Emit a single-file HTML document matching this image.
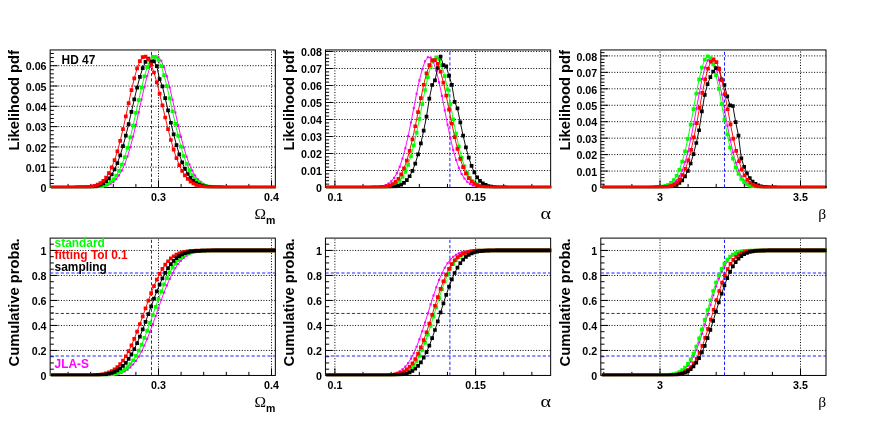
<!DOCTYPE html>
<html><head><meta charset="utf-8"><title>Likelihood pdf</title>
<style>
html,body{margin:0;padding:0;background:#fff;}
body{width:876px;height:426px;overflow:hidden;}
svg{display:block;will-change:transform;opacity:0.999;}
text{font-family:"Liberation Sans",sans-serif;font-weight:bold;}
.tl{font-size:10.7px;}
.yt{font-size:14.7px;}
.it{font-size:11.9px;}
.sub{font-size:10.5px;}
.sym{font-family:"Liberation Serif",serif;font-weight:normal;}
</style></head><body>
<svg width="876" height="426" viewBox="0 0 876 426">
<rect width="876" height="426" fill="#fff"/>
<g>
<path d="M158.5 187.5V49.95M271.5 187.5V49.95M50.15 167.2H275.35M50.15 146.9H275.35M50.15 126.6H275.35M50.15 106.3H275.35M50.15 86H275.35M50.15 65.7H275.35" stroke="#000" stroke-width="1" stroke-dasharray="1 1.7" fill="none"/>
<path d="M68.1 187.5v-3.6M90.7 187.5v-3.6M113.3 187.5v-3.6M135.9 187.5v-3.6M158.5 187.5v-7.2M181.1 187.5v-3.6M203.7 187.5v-3.6M226.3 187.5v-3.6M248.9 187.5v-3.6M271.5 187.5v-7.2M50.15 183.44h3.7M50.15 179.38h3.7M50.15 175.32h3.7M50.15 171.26h3.7M50.15 167.2h7.4M50.15 163.14h3.7M50.15 159.08h3.7M50.15 155.02h3.7M50.15 150.96h3.7M50.15 146.9h7.4M50.15 142.84h3.7M50.15 138.78h3.7M50.15 134.72h3.7M50.15 130.66h3.7M50.15 126.6h7.4M50.15 122.54h3.7M50.15 118.48h3.7M50.15 114.42h3.7M50.15 110.36h3.7M50.15 106.3h7.4M50.15 102.24h3.7M50.15 98.18h3.7M50.15 94.12h3.7M50.15 90.06h3.7M50.15 86h7.4M50.15 81.94h3.7M50.15 77.88h3.7M50.15 73.82h3.7M50.15 69.76h3.7M50.15 65.7h7.4M50.15 61.64h3.7M50.15 57.58h3.7M50.15 53.52h3.7" stroke="#000" stroke-width="1" fill="none"/><rect x="50.15" y="49.95" width="225.2" height="137.55" fill="none" stroke="#000" stroke-width="1"/>
<path d="M151.5 187.5V49.95" stroke="#2020ff" stroke-width="1" stroke-dasharray="3.2 2.1" fill="none"/>
<clipPath id="c00"><rect x="50.55" y="49.35" width="225.4" height="138.85"/></clipPath><g clip-path="url(#c00)">
<polyline points="51.47,187.5 54.29,187.5 57.1,187.5 59.92,187.5 62.73,187.5 65.55,187.5 68.36,187.5 71.18,187.5 73.99,187.5 76.81,187.5 79.62,187.49 82.44,187.49 85.25,187.47 88.07,187.45 90.88,187.4 93.7,187.33 96.51,187.19 99.33,186.96 102.14,186.59 104.96,186.01 107.77,185.11 110.59,183.78 113.4,181.84 116.22,179.12 119.03,175.42 121.85,170.53 124.66,164.27 127.48,156.54 130.29,147.29 133.11,136.62 135.92,124.79 138.74,112.21 141.55,99.43 144.37,87.15 147.18,76.12 150,67.06 152.81,60.63 155.63,57.31 158.44,57.35 161.26,60.75 164.07,67.26 166.89,76.37 169.7,87.45 172.52,99.75 175.33,112.53 178.15,125.1 180.96,136.91 183.78,147.54 186.59,156.75 189.41,164.45 192.22,170.67 195.04,175.53 197.85,179.2 200.67,181.9 203.48,183.82 206.3,185.14 209.11,186.03 211.93,186.6 214.74,186.97 217.56,187.19 220.37,187.33 223.19,187.41 226,187.45 228.82,187.47 231.63,187.49 234.45,187.49 237.26,187.5 240.08,187.5 242.89,187.5 245.71,187.5 248.52,187.5 251.34,187.5 254.15,187.5 256.97,187.5 259.78,187.5 262.6,187.5 265.41,187.5 268.23,187.5 271.04,187.5 273.86,187.5" fill="none" stroke="#ff00ff" stroke-width="0.95" stroke-linejoin="round"/><path d="M50.42 186.45h2.1v2.1h-2.1zM53.24 186.45h2.1v2.1h-2.1zM56.05 186.45h2.1v2.1h-2.1zM58.87 186.45h2.1v2.1h-2.1zM61.68 186.45h2.1v2.1h-2.1zM64.5 186.45h2.1v2.1h-2.1zM67.31 186.45h2.1v2.1h-2.1zM70.13 186.45h2.1v2.1h-2.1zM72.94 186.45h2.1v2.1h-2.1zM75.76 186.45h2.1v2.1h-2.1zM78.57 186.44h2.1v2.1h-2.1zM81.39 186.44h2.1v2.1h-2.1zM84.2 186.42h2.1v2.1h-2.1zM87.02 186.4h2.1v2.1h-2.1zM89.83 186.35h2.1v2.1h-2.1zM92.65 186.28h2.1v2.1h-2.1zM95.46 186.14h2.1v2.1h-2.1zM98.28 185.91h2.1v2.1h-2.1zM101.09 185.54h2.1v2.1h-2.1zM103.91 184.96h2.1v2.1h-2.1zM106.72 184.06h2.1v2.1h-2.1zM109.54 182.73h2.1v2.1h-2.1zM112.35 180.79h2.1v2.1h-2.1zM115.17 178.07h2.1v2.1h-2.1zM117.98 174.37h2.1v2.1h-2.1zM120.8 169.48h2.1v2.1h-2.1zM123.61 163.22h2.1v2.1h-2.1zM126.43 155.49h2.1v2.1h-2.1zM129.24 146.24h2.1v2.1h-2.1zM132.06 135.57h2.1v2.1h-2.1zM134.87 123.74h2.1v2.1h-2.1zM137.69 111.16h2.1v2.1h-2.1zM140.5 98.38h2.1v2.1h-2.1zM143.32 86.1h2.1v2.1h-2.1zM146.13 75.07h2.1v2.1h-2.1zM148.95 66.01h2.1v2.1h-2.1zM151.76 59.58h2.1v2.1h-2.1zM154.58 56.26h2.1v2.1h-2.1zM157.39 56.3h2.1v2.1h-2.1zM160.21 59.7h2.1v2.1h-2.1zM163.02 66.21h2.1v2.1h-2.1zM165.84 75.32h2.1v2.1h-2.1zM168.65 86.4h2.1v2.1h-2.1zM171.47 98.7h2.1v2.1h-2.1zM174.28 111.48h2.1v2.1h-2.1zM177.1 124.05h2.1v2.1h-2.1zM179.91 135.86h2.1v2.1h-2.1zM182.73 146.49h2.1v2.1h-2.1zM185.54 155.7h2.1v2.1h-2.1zM188.36 163.4h2.1v2.1h-2.1zM191.17 169.62h2.1v2.1h-2.1zM193.99 174.48h2.1v2.1h-2.1zM196.8 178.15h2.1v2.1h-2.1zM199.62 180.85h2.1v2.1h-2.1zM202.43 182.77h2.1v2.1h-2.1zM205.25 184.09h2.1v2.1h-2.1zM208.06 184.98h2.1v2.1h-2.1zM210.88 185.55h2.1v2.1h-2.1zM213.69 185.92h2.1v2.1h-2.1zM216.51 186.14h2.1v2.1h-2.1zM219.32 186.28h2.1v2.1h-2.1zM222.14 186.36h2.1v2.1h-2.1zM224.95 186.4h2.1v2.1h-2.1zM227.77 186.42h2.1v2.1h-2.1zM230.58 186.44h2.1v2.1h-2.1zM233.4 186.44h2.1v2.1h-2.1zM236.21 186.45h2.1v2.1h-2.1zM239.03 186.45h2.1v2.1h-2.1zM241.84 186.45h2.1v2.1h-2.1zM244.66 186.45h2.1v2.1h-2.1zM247.47 186.45h2.1v2.1h-2.1zM250.29 186.45h2.1v2.1h-2.1zM253.1 186.45h2.1v2.1h-2.1zM255.92 186.45h2.1v2.1h-2.1zM258.73 186.45h2.1v2.1h-2.1zM261.55 186.45h2.1v2.1h-2.1zM264.36 186.45h2.1v2.1h-2.1zM267.18 186.45h2.1v2.1h-2.1zM269.99 186.45h2.1v2.1h-2.1zM272.81 186.45h2.1v2.1h-2.1z" fill="#ff00ff"/>
<polyline points="51.47,187.5 54.29,187.5 57.1,187.5 59.92,187.5 62.73,187.5 65.55,187.5 68.36,187.5 71.18,187.5 73.99,187.5 76.81,187.49 79.62,187.49 82.44,187.47 85.25,187.45 88.07,187.41 90.88,187.33 93.7,187.2 96.51,186.98 99.33,186.62 102.14,186.06 104.96,185.19 107.77,183.88 110.59,181.99 113.4,179.33 116.22,175.7 119.03,170.89 121.85,164.72 124.66,157.07 127.48,147.89 130.29,137.29 133.11,125.49 135.92,112.9 138.74,100.07 141.55,87.68 144.37,76.47 147.18,67.21 150,60.53 152.81,56.94 155.63,56.73 158.44,59.89 161.26,66.2 164.07,75.17 166.89,86.17 169.7,98.45 172.52,111.26 175.33,123.92 178.15,135.85 180.96,146.62 183.78,155.98 186.59,163.83 189.41,170.18 192.22,175.15 195.04,178.93 197.85,181.7 200.67,183.68 203.48,185.05 206.3,185.97 209.11,186.57 211.93,186.95 214.74,187.18 217.56,187.32 220.37,187.4 223.19,187.45 226,187.47 228.82,187.49 231.63,187.49 234.45,187.5 237.26,187.5 240.08,187.5 242.89,187.5 245.71,187.5 248.52,187.5 251.34,187.5 254.15,187.5 256.97,187.5 259.78,187.5 262.6,187.5 265.41,187.5 268.23,187.5 271.04,187.5 273.86,187.5" fill="none" stroke="#00ff00" stroke-width="0.95" stroke-linejoin="round"/><path d="M49.62 185.65h3.7v3.7h-3.7zM52.44 185.65h3.7v3.7h-3.7zM55.25 185.65h3.7v3.7h-3.7zM58.07 185.65h3.7v3.7h-3.7zM60.88 185.65h3.7v3.7h-3.7zM63.7 185.65h3.7v3.7h-3.7zM66.51 185.65h3.7v3.7h-3.7zM69.33 185.65h3.7v3.7h-3.7zM72.14 185.65h3.7v3.7h-3.7zM74.96 185.64h3.7v3.7h-3.7zM77.77 185.64h3.7v3.7h-3.7zM80.59 185.62h3.7v3.7h-3.7zM83.4 185.6h3.7v3.7h-3.7zM86.22 185.56h3.7v3.7h-3.7zM89.03 185.48h3.7v3.7h-3.7zM91.85 185.35h3.7v3.7h-3.7zM94.66 185.13h3.7v3.7h-3.7zM97.48 184.77h3.7v3.7h-3.7zM100.29 184.21h3.7v3.7h-3.7zM103.11 183.34h3.7v3.7h-3.7zM105.92 182.03h3.7v3.7h-3.7zM108.74 180.14h3.7v3.7h-3.7zM111.55 177.48h3.7v3.7h-3.7zM114.37 173.85h3.7v3.7h-3.7zM117.18 169.04h3.7v3.7h-3.7zM120 162.87h3.7v3.7h-3.7zM122.81 155.22h3.7v3.7h-3.7zM125.63 146.04h3.7v3.7h-3.7zM128.44 135.44h3.7v3.7h-3.7zM131.26 123.64h3.7v3.7h-3.7zM134.07 111.05h3.7v3.7h-3.7zM136.89 98.22h3.7v3.7h-3.7zM139.7 85.83h3.7v3.7h-3.7zM142.52 74.62h3.7v3.7h-3.7zM145.33 65.36h3.7v3.7h-3.7zM148.15 58.68h3.7v3.7h-3.7zM150.96 55.09h3.7v3.7h-3.7zM153.78 54.88h3.7v3.7h-3.7zM156.59 58.04h3.7v3.7h-3.7zM159.41 64.35h3.7v3.7h-3.7zM162.22 73.32h3.7v3.7h-3.7zM165.04 84.32h3.7v3.7h-3.7zM167.85 96.6h3.7v3.7h-3.7zM170.67 109.41h3.7v3.7h-3.7zM173.48 122.07h3.7v3.7h-3.7zM176.3 134h3.7v3.7h-3.7zM179.11 144.77h3.7v3.7h-3.7zM181.93 154.13h3.7v3.7h-3.7zM184.74 161.98h3.7v3.7h-3.7zM187.56 168.33h3.7v3.7h-3.7zM190.37 173.3h3.7v3.7h-3.7zM193.19 177.08h3.7v3.7h-3.7zM196 179.85h3.7v3.7h-3.7zM198.82 181.83h3.7v3.7h-3.7zM201.63 183.2h3.7v3.7h-3.7zM204.45 184.12h3.7v3.7h-3.7zM207.26 184.72h3.7v3.7h-3.7zM210.08 185.1h3.7v3.7h-3.7zM212.89 185.33h3.7v3.7h-3.7zM215.71 185.47h3.7v3.7h-3.7zM218.52 185.55h3.7v3.7h-3.7zM221.34 185.6h3.7v3.7h-3.7zM224.15 185.62h3.7v3.7h-3.7zM226.97 185.64h3.7v3.7h-3.7zM229.78 185.64h3.7v3.7h-3.7zM232.6 185.65h3.7v3.7h-3.7zM235.41 185.65h3.7v3.7h-3.7zM238.23 185.65h3.7v3.7h-3.7zM241.04 185.65h3.7v3.7h-3.7zM243.86 185.65h3.7v3.7h-3.7zM246.67 185.65h3.7v3.7h-3.7zM249.49 185.65h3.7v3.7h-3.7zM252.3 185.65h3.7v3.7h-3.7zM255.12 185.65h3.7v3.7h-3.7zM257.93 185.65h3.7v3.7h-3.7zM260.75 185.65h3.7v3.7h-3.7zM263.56 185.65h3.7v3.7h-3.7zM266.38 185.65h3.7v3.7h-3.7zM269.19 185.65h3.7v3.7h-3.7zM272.01 185.65h3.7v3.7h-3.7z" fill="#00ff00"/>
<polyline points="52.63,187.5 55.44,187.5 58.26,187.5 61.07,187.5 63.89,187.5 66.7,187.5 69.52,187.5 72.33,187.49 75.15,187.48 77.96,187.46 80.78,187.43 83.59,187.37 86.41,187.28 89.22,187.11 92.04,186.84 94.85,186.41 97.67,185.75 100.48,184.75 103.3,183.29 106.11,181.22 108.93,178.34 111.74,174.49 114.56,169.46 117.37,163.11 120.19,155.35 123,146.16 125.82,135.65 128.63,124.07 131.45,111.83 134.26,99.46 137.08,87.6 139.89,76.93 142.71,68.15 145.52,61.86 148.34,58.5 151.15,61.8 153.97,61.34 156.78,66.1 159.6,79.2 162.41,86.35 165.23,98.12 168.04,110.46 170.86,122.75 173.67,134.42 176.49,145.06 179.3,154.4 182.12,162.33 184.93,168.83 187.75,173.99 190.56,177.97 193.38,180.94 196.19,183.1 199.01,184.62 201.82,185.66 204.64,186.35 207.45,186.8 210.27,187.09 213.08,187.26 215.9,187.37 218.71,187.43 221.53,187.46 224.34,187.48 227.16,187.49 229.97,187.49 232.79,187.5 235.6,187.5 238.42,187.5 241.23,187.5 244.05,187.5 246.86,187.5 249.68,187.5 252.49,187.5 255.31,187.5 258.12,187.5 260.94,187.5 263.75,187.5 266.57,187.5 269.38,187.5 272.2,187.5 275.01,187.5" fill="none" stroke="#000000" stroke-width="0.95" stroke-linejoin="round"/><path d="M50.78 185.65h3.7v3.7h-3.7zM53.59 185.65h3.7v3.7h-3.7zM56.41 185.65h3.7v3.7h-3.7zM59.22 185.65h3.7v3.7h-3.7zM62.04 185.65h3.7v3.7h-3.7zM64.85 185.65h3.7v3.7h-3.7zM67.67 185.65h3.7v3.7h-3.7zM70.48 185.64h3.7v3.7h-3.7zM73.3 185.63h3.7v3.7h-3.7zM76.11 185.61h3.7v3.7h-3.7zM78.93 185.58h3.7v3.7h-3.7zM81.74 185.52h3.7v3.7h-3.7zM84.56 185.43h3.7v3.7h-3.7zM87.37 185.26h3.7v3.7h-3.7zM90.19 184.99h3.7v3.7h-3.7zM93 184.56h3.7v3.7h-3.7zM95.82 183.9h3.7v3.7h-3.7zM98.63 182.9h3.7v3.7h-3.7zM101.45 181.44h3.7v3.7h-3.7zM104.26 179.37h3.7v3.7h-3.7zM107.08 176.49h3.7v3.7h-3.7zM109.89 172.64h3.7v3.7h-3.7zM112.71 167.61h3.7v3.7h-3.7zM115.52 161.26h3.7v3.7h-3.7zM118.34 153.5h3.7v3.7h-3.7zM121.15 144.31h3.7v3.7h-3.7zM123.97 133.8h3.7v3.7h-3.7zM126.78 122.22h3.7v3.7h-3.7zM129.6 109.98h3.7v3.7h-3.7zM132.41 97.61h3.7v3.7h-3.7zM135.23 85.75h3.7v3.7h-3.7zM138.04 75.08h3.7v3.7h-3.7zM140.86 66.3h3.7v3.7h-3.7zM143.67 60.01h3.7v3.7h-3.7zM146.49 56.65h3.7v3.7h-3.7zM149.3 59.95h3.7v3.7h-3.7zM152.12 59.49h3.7v3.7h-3.7zM154.93 64.25h3.7v3.7h-3.7zM157.75 77.35h3.7v3.7h-3.7zM160.56 84.5h3.7v3.7h-3.7zM163.38 96.27h3.7v3.7h-3.7zM166.19 108.61h3.7v3.7h-3.7zM169.01 120.9h3.7v3.7h-3.7zM171.82 132.57h3.7v3.7h-3.7zM174.64 143.21h3.7v3.7h-3.7zM177.45 152.55h3.7v3.7h-3.7zM180.27 160.48h3.7v3.7h-3.7zM183.08 166.98h3.7v3.7h-3.7zM185.9 172.14h3.7v3.7h-3.7zM188.71 176.12h3.7v3.7h-3.7zM191.53 179.09h3.7v3.7h-3.7zM194.34 181.25h3.7v3.7h-3.7zM197.16 182.77h3.7v3.7h-3.7zM199.97 183.81h3.7v3.7h-3.7zM202.79 184.5h3.7v3.7h-3.7zM205.6 184.95h3.7v3.7h-3.7zM208.42 185.24h3.7v3.7h-3.7zM211.23 185.41h3.7v3.7h-3.7zM214.05 185.52h3.7v3.7h-3.7zM216.86 185.58h3.7v3.7h-3.7zM219.68 185.61h3.7v3.7h-3.7zM222.49 185.63h3.7v3.7h-3.7zM225.31 185.64h3.7v3.7h-3.7zM228.12 185.64h3.7v3.7h-3.7zM230.94 185.65h3.7v3.7h-3.7zM233.75 185.65h3.7v3.7h-3.7zM236.57 185.65h3.7v3.7h-3.7zM239.38 185.65h3.7v3.7h-3.7zM242.2 185.65h3.7v3.7h-3.7zM245.01 185.65h3.7v3.7h-3.7zM247.83 185.65h3.7v3.7h-3.7zM250.64 185.65h3.7v3.7h-3.7zM253.46 185.65h3.7v3.7h-3.7zM256.27 185.65h3.7v3.7h-3.7zM259.09 185.65h3.7v3.7h-3.7zM261.9 185.65h3.7v3.7h-3.7zM264.72 185.65h3.7v3.7h-3.7zM267.53 185.65h3.7v3.7h-3.7zM270.35 185.65h3.7v3.7h-3.7zM273.16 185.65h3.7v3.7h-3.7z" fill="#000000"/>
<polyline points="52.63,187.5 55.44,187.5 58.26,187.5 61.07,187.5 63.89,187.5 66.7,187.5 69.52,187.49 72.33,187.49 75.15,187.47 77.96,187.44 80.78,187.39 83.59,187.3 86.41,187.14 89.22,186.88 92.04,186.44 94.85,185.75 97.67,184.68 100.48,183.09 103.3,180.79 106.11,177.56 108.93,173.19 111.74,167.47 114.56,160.21 117.37,151.35 120.19,140.92 123,129.12 125.82,116.34 128.63,103.13 131.45,90.21 134.26,78.38 137.08,68.45 139.89,61.18 142.71,57.14 145.52,56.6 148.34,59.19 151.15,64.61 153.97,72.49 156.78,82.33 159.6,93.53 162.41,105.46 165.23,117.51 168.04,129.16 170.86,139.98 173.67,149.69 176.49,158.09 179.3,165.16 182.12,170.91 184.93,175.47 187.75,178.97 190.56,181.59 193.38,183.5 196.19,184.86 199.01,185.79 201.82,186.42 204.64,186.83 207.45,187.1 210.27,187.26 213.08,187.36 215.9,187.42 218.71,187.46 221.53,187.48 224.34,187.49 227.16,187.49 229.97,187.5 232.79,187.5 235.6,187.5 238.42,187.5 241.23,187.5 244.05,187.5 246.86,187.5 249.68,187.5 252.49,187.5 255.31,187.5 258.12,187.5 260.94,187.5 263.75,187.5 266.57,187.5 269.38,187.5 272.2,187.5 275.01,187.5" fill="none" stroke="#ff0000" stroke-width="0.95" stroke-linejoin="round"/><path d="M50.78 185.65h3.7v3.7h-3.7zM53.59 185.65h3.7v3.7h-3.7zM56.41 185.65h3.7v3.7h-3.7zM59.22 185.65h3.7v3.7h-3.7zM62.04 185.65h3.7v3.7h-3.7zM64.85 185.65h3.7v3.7h-3.7zM67.67 185.64h3.7v3.7h-3.7zM70.48 185.64h3.7v3.7h-3.7zM73.3 185.62h3.7v3.7h-3.7zM76.11 185.59h3.7v3.7h-3.7zM78.93 185.54h3.7v3.7h-3.7zM81.74 185.45h3.7v3.7h-3.7zM84.56 185.29h3.7v3.7h-3.7zM87.37 185.03h3.7v3.7h-3.7zM90.19 184.59h3.7v3.7h-3.7zM93 183.9h3.7v3.7h-3.7zM95.82 182.83h3.7v3.7h-3.7zM98.63 181.24h3.7v3.7h-3.7zM101.45 178.94h3.7v3.7h-3.7zM104.26 175.71h3.7v3.7h-3.7zM107.08 171.34h3.7v3.7h-3.7zM109.89 165.62h3.7v3.7h-3.7zM112.71 158.36h3.7v3.7h-3.7zM115.52 149.5h3.7v3.7h-3.7zM118.34 139.07h3.7v3.7h-3.7zM121.15 127.27h3.7v3.7h-3.7zM123.97 114.49h3.7v3.7h-3.7zM126.78 101.28h3.7v3.7h-3.7zM129.6 88.36h3.7v3.7h-3.7zM132.41 76.53h3.7v3.7h-3.7zM135.23 66.6h3.7v3.7h-3.7zM138.04 59.33h3.7v3.7h-3.7zM140.86 55.29h3.7v3.7h-3.7zM143.67 54.75h3.7v3.7h-3.7zM146.49 57.34h3.7v3.7h-3.7zM149.3 62.76h3.7v3.7h-3.7zM152.12 70.64h3.7v3.7h-3.7zM154.93 80.48h3.7v3.7h-3.7zM157.75 91.68h3.7v3.7h-3.7zM160.56 103.61h3.7v3.7h-3.7zM163.38 115.66h3.7v3.7h-3.7zM166.19 127.31h3.7v3.7h-3.7zM169.01 138.13h3.7v3.7h-3.7zM171.82 147.84h3.7v3.7h-3.7zM174.64 156.24h3.7v3.7h-3.7zM177.45 163.31h3.7v3.7h-3.7zM180.27 169.06h3.7v3.7h-3.7zM183.08 173.62h3.7v3.7h-3.7zM185.9 177.12h3.7v3.7h-3.7zM188.71 179.74h3.7v3.7h-3.7zM191.53 181.65h3.7v3.7h-3.7zM194.34 183.01h3.7v3.7h-3.7zM197.16 183.94h3.7v3.7h-3.7zM199.97 184.57h3.7v3.7h-3.7zM202.79 184.98h3.7v3.7h-3.7zM205.6 185.25h3.7v3.7h-3.7zM208.42 185.41h3.7v3.7h-3.7zM211.23 185.51h3.7v3.7h-3.7zM214.05 185.57h3.7v3.7h-3.7zM216.86 185.61h3.7v3.7h-3.7zM219.68 185.63h3.7v3.7h-3.7zM222.49 185.64h3.7v3.7h-3.7zM225.31 185.64h3.7v3.7h-3.7zM228.12 185.65h3.7v3.7h-3.7zM230.94 185.65h3.7v3.7h-3.7zM233.75 185.65h3.7v3.7h-3.7zM236.57 185.65h3.7v3.7h-3.7zM239.38 185.65h3.7v3.7h-3.7zM242.2 185.65h3.7v3.7h-3.7zM245.01 185.65h3.7v3.7h-3.7zM247.83 185.65h3.7v3.7h-3.7zM250.64 185.65h3.7v3.7h-3.7zM253.46 185.65h3.7v3.7h-3.7zM256.27 185.65h3.7v3.7h-3.7zM259.09 185.65h3.7v3.7h-3.7zM261.9 185.65h3.7v3.7h-3.7zM264.72 185.65h3.7v3.7h-3.7zM267.53 185.65h3.7v3.7h-3.7zM270.35 185.65h3.7v3.7h-3.7zM273.16 185.65h3.7v3.7h-3.7z" fill="#ff0000"/>
</g>
<text x="158.5" y="201.2" text-anchor="middle" class="tl">0.3</text><text x="271.5" y="201.2" text-anchor="middle" class="tl">0.4</text><text x="46.55" y="192.2" text-anchor="end" class="tl">0</text><text x="46.55" y="171.9" text-anchor="end" class="tl">0.01</text><text x="46.55" y="151.6" text-anchor="end" class="tl">0.02</text><text x="46.55" y="131.3" text-anchor="end" class="tl">0.03</text><text x="46.55" y="111" text-anchor="end" class="tl">0.04</text><text x="46.55" y="90.7" text-anchor="end" class="tl">0.05</text><text x="46.55" y="70.4" text-anchor="end" class="tl">0.06</text><text transform="translate(18.95 50.15) rotate(-90)" text-anchor="end" class="yt">Likelihood pdf</text><text x="266.05" y="219.1" text-anchor="end" class="sym" font-size="15.5">&#937;</text><text x="275.25" y="223.6" text-anchor="end" class="sub">m</text>
</g>
<g>
<path d="M334.9 187.5V49.95M475.6 187.5V49.95M325.45 170.5H550.65M325.45 153.5H550.65M325.45 136.5H550.65M325.45 119.5H550.65M325.45 102.5H550.65M325.45 85.5H550.65M325.45 68.5H550.65M325.45 51.5H550.65" stroke="#000" stroke-width="1" stroke-dasharray="1 1.7" fill="none"/>
<path d="M334.9 187.5v-7.2M363.04 187.5v-3.6M391.18 187.5v-3.6M419.32 187.5v-3.6M447.46 187.5v-3.6M475.6 187.5v-7.2M503.74 187.5v-3.6M531.88 187.5v-3.6M325.45 184.1h3.7M325.45 180.7h3.7M325.45 177.3h3.7M325.45 173.9h3.7M325.45 170.5h7.4M325.45 167.1h3.7M325.45 163.7h3.7M325.45 160.3h3.7M325.45 156.9h3.7M325.45 153.5h7.4M325.45 150.1h3.7M325.45 146.7h3.7M325.45 143.3h3.7M325.45 139.9h3.7M325.45 136.5h7.4M325.45 133.1h3.7M325.45 129.7h3.7M325.45 126.3h3.7M325.45 122.9h3.7M325.45 119.5h7.4M325.45 116.1h3.7M325.45 112.7h3.7M325.45 109.3h3.7M325.45 105.9h3.7M325.45 102.5h7.4M325.45 99.1h3.7M325.45 95.7h3.7M325.45 92.3h3.7M325.45 88.9h3.7M325.45 85.5h7.4M325.45 82.1h3.7M325.45 78.7h3.7M325.45 75.3h3.7M325.45 71.9h3.7M325.45 68.5h7.4M325.45 65.1h3.7M325.45 61.7h3.7M325.45 58.3h3.7M325.45 54.9h3.7M325.45 51.5h7.4" stroke="#000" stroke-width="1" fill="none"/><rect x="325.45" y="49.95" width="225.2" height="137.55" fill="none" stroke="#000" stroke-width="1"/>
<path d="M449.9 187.5V49.95" stroke="#2020ff" stroke-width="1" stroke-dasharray="3.2 2.1" fill="none"/>
<clipPath id="c01"><rect x="325.85" y="49.35" width="225.4" height="138.85"/></clipPath><g clip-path="url(#c01)">
<polyline points="326.52,187.5 329.33,187.5 332.15,187.5 334.96,187.5 337.78,187.5 340.59,187.5 343.41,187.5 346.22,187.5 349.04,187.5 351.85,187.5 354.67,187.5 357.48,187.5 360.3,187.49 363.11,187.49 365.93,187.47 368.74,187.44 371.56,187.39 374.37,187.28 377.19,187.08 380,186.73 382.82,186.14 385.63,185.17 388.45,183.64 391.26,181.31 394.08,177.92 396.89,173.15 399.71,166.73 402.52,158.44 405.34,148.19 408.15,136.1 410.97,122.53 413.78,108.11 416.6,93.71 419.41,80.39 422.23,69.25 425.04,61.3 427.86,57.29 430.67,57.63 433.49,62.28 436.3,70.79 439.12,82.33 441.93,95.89 444.75,110.36 447.56,124.7 450.38,138.08 453.19,149.9 456.01,159.85 458.82,167.84 461.64,173.99 464.45,178.52 467.27,181.73 470.08,183.92 472.9,185.35 475.71,186.25 478.53,186.8 481.34,187.12 484.16,187.3 486.97,187.4 489.79,187.45 492.6,187.48 495.42,187.49 498.23,187.5 501.05,187.5 503.86,187.5 506.68,187.5 509.49,187.5 512.31,187.5 515.12,187.5 517.94,187.5 520.75,187.5 523.57,187.5 526.38,187.5 529.2,187.5 532.01,187.5 534.83,187.5 537.64,187.5 540.46,187.5 543.27,187.5 546.09,187.5 548.9,187.5" fill="none" stroke="#ff00ff" stroke-width="0.95" stroke-linejoin="round"/><path d="M325.47 186.45h2.1v2.1h-2.1zM328.28 186.45h2.1v2.1h-2.1zM331.1 186.45h2.1v2.1h-2.1zM333.91 186.45h2.1v2.1h-2.1zM336.73 186.45h2.1v2.1h-2.1zM339.54 186.45h2.1v2.1h-2.1zM342.36 186.45h2.1v2.1h-2.1zM345.17 186.45h2.1v2.1h-2.1zM347.99 186.45h2.1v2.1h-2.1zM350.8 186.45h2.1v2.1h-2.1zM353.62 186.45h2.1v2.1h-2.1zM356.43 186.45h2.1v2.1h-2.1zM359.25 186.44h2.1v2.1h-2.1zM362.06 186.44h2.1v2.1h-2.1zM364.88 186.42h2.1v2.1h-2.1zM367.69 186.39h2.1v2.1h-2.1zM370.51 186.34h2.1v2.1h-2.1zM373.32 186.23h2.1v2.1h-2.1zM376.14 186.03h2.1v2.1h-2.1zM378.95 185.68h2.1v2.1h-2.1zM381.77 185.09h2.1v2.1h-2.1zM384.58 184.12h2.1v2.1h-2.1zM387.4 182.59h2.1v2.1h-2.1zM390.21 180.26h2.1v2.1h-2.1zM393.03 176.87h2.1v2.1h-2.1zM395.84 172.1h2.1v2.1h-2.1zM398.66 165.68h2.1v2.1h-2.1zM401.47 157.39h2.1v2.1h-2.1zM404.29 147.14h2.1v2.1h-2.1zM407.1 135.05h2.1v2.1h-2.1zM409.92 121.48h2.1v2.1h-2.1zM412.73 107.06h2.1v2.1h-2.1zM415.55 92.66h2.1v2.1h-2.1zM418.36 79.34h2.1v2.1h-2.1zM421.18 68.2h2.1v2.1h-2.1zM423.99 60.25h2.1v2.1h-2.1zM426.81 56.24h2.1v2.1h-2.1zM429.62 56.58h2.1v2.1h-2.1zM432.44 61.23h2.1v2.1h-2.1zM435.25 69.74h2.1v2.1h-2.1zM438.07 81.28h2.1v2.1h-2.1zM440.88 94.84h2.1v2.1h-2.1zM443.7 109.31h2.1v2.1h-2.1zM446.51 123.65h2.1v2.1h-2.1zM449.33 137.03h2.1v2.1h-2.1zM452.14 148.85h2.1v2.1h-2.1zM454.96 158.8h2.1v2.1h-2.1zM457.77 166.79h2.1v2.1h-2.1zM460.59 172.94h2.1v2.1h-2.1zM463.4 177.47h2.1v2.1h-2.1zM466.22 180.68h2.1v2.1h-2.1zM469.03 182.87h2.1v2.1h-2.1zM471.85 184.3h2.1v2.1h-2.1zM474.66 185.2h2.1v2.1h-2.1zM477.48 185.75h2.1v2.1h-2.1zM480.29 186.07h2.1v2.1h-2.1zM483.11 186.25h2.1v2.1h-2.1zM485.92 186.35h2.1v2.1h-2.1zM488.74 186.4h2.1v2.1h-2.1zM491.55 186.43h2.1v2.1h-2.1zM494.37 186.44h2.1v2.1h-2.1zM497.18 186.45h2.1v2.1h-2.1zM500 186.45h2.1v2.1h-2.1zM502.81 186.45h2.1v2.1h-2.1zM505.63 186.45h2.1v2.1h-2.1zM508.44 186.45h2.1v2.1h-2.1zM511.26 186.45h2.1v2.1h-2.1zM514.07 186.45h2.1v2.1h-2.1zM516.89 186.45h2.1v2.1h-2.1zM519.7 186.45h2.1v2.1h-2.1zM522.52 186.45h2.1v2.1h-2.1zM525.33 186.45h2.1v2.1h-2.1zM528.15 186.45h2.1v2.1h-2.1zM530.96 186.45h2.1v2.1h-2.1zM533.78 186.45h2.1v2.1h-2.1zM536.59 186.45h2.1v2.1h-2.1zM539.41 186.45h2.1v2.1h-2.1zM542.22 186.45h2.1v2.1h-2.1zM545.04 186.45h2.1v2.1h-2.1zM547.85 186.45h2.1v2.1h-2.1z" fill="#ff00ff"/>
<polyline points="326.52,187.5 329.33,187.5 332.15,187.5 334.96,187.5 337.78,187.5 340.59,187.5 343.41,187.5 346.22,187.5 349.04,187.5 351.85,187.5 354.67,187.5 357.48,187.5 360.3,187.5 363.11,187.5 365.93,187.5 368.74,187.49 371.56,187.49 374.37,187.47 377.19,187.44 380,187.37 382.82,187.25 385.63,187.03 388.45,186.64 391.26,185.98 394.08,184.9 396.89,183.21 399.71,180.65 402.52,176.95 405.34,171.79 408.15,164.9 410.97,156.08 413.78,145.29 416.6,132.72 419.41,118.79 422.23,104.22 425.04,89.98 427.86,77.14 430.67,66.83 433.49,60 436.3,57.32 439.12,59.22 441.93,65.71 444.75,76.08 447.56,89.29 450.38,104.1 453.19,119.25 456.01,133.69 458.82,146.63 461.64,157.58 464.45,166.4 467.27,173.17 470.08,178.12 472.9,181.58 475.71,183.9 478.53,185.39 481.34,186.31 484.16,186.85 486.97,187.16 489.79,187.33 492.6,187.42 495.42,187.46 498.23,187.48 501.05,187.49 503.86,187.5 506.68,187.5 509.49,187.5 512.31,187.5 515.12,187.5 517.94,187.5 520.75,187.5 523.57,187.5 526.38,187.5 529.2,187.5 532.01,187.5 534.83,187.5 537.64,187.5 540.46,187.5 543.27,187.5 546.09,187.5 548.9,187.5" fill="none" stroke="#00ff00" stroke-width="0.95" stroke-linejoin="round"/><path d="M324.67 185.65h3.7v3.7h-3.7zM327.48 185.65h3.7v3.7h-3.7zM330.3 185.65h3.7v3.7h-3.7zM333.11 185.65h3.7v3.7h-3.7zM335.93 185.65h3.7v3.7h-3.7zM338.74 185.65h3.7v3.7h-3.7zM341.56 185.65h3.7v3.7h-3.7zM344.37 185.65h3.7v3.7h-3.7zM347.19 185.65h3.7v3.7h-3.7zM350 185.65h3.7v3.7h-3.7zM352.82 185.65h3.7v3.7h-3.7zM355.63 185.65h3.7v3.7h-3.7zM358.45 185.65h3.7v3.7h-3.7zM361.26 185.65h3.7v3.7h-3.7zM364.08 185.65h3.7v3.7h-3.7zM366.89 185.64h3.7v3.7h-3.7zM369.71 185.64h3.7v3.7h-3.7zM372.52 185.62h3.7v3.7h-3.7zM375.34 185.59h3.7v3.7h-3.7zM378.15 185.52h3.7v3.7h-3.7zM380.97 185.4h3.7v3.7h-3.7zM383.78 185.18h3.7v3.7h-3.7zM386.6 184.79h3.7v3.7h-3.7zM389.41 184.13h3.7v3.7h-3.7zM392.23 183.05h3.7v3.7h-3.7zM395.04 181.36h3.7v3.7h-3.7zM397.86 178.8h3.7v3.7h-3.7zM400.67 175.1h3.7v3.7h-3.7zM403.49 169.94h3.7v3.7h-3.7zM406.3 163.05h3.7v3.7h-3.7zM409.12 154.23h3.7v3.7h-3.7zM411.93 143.44h3.7v3.7h-3.7zM414.75 130.87h3.7v3.7h-3.7zM417.56 116.94h3.7v3.7h-3.7zM420.38 102.37h3.7v3.7h-3.7zM423.19 88.13h3.7v3.7h-3.7zM426.01 75.29h3.7v3.7h-3.7zM428.82 64.98h3.7v3.7h-3.7zM431.64 58.15h3.7v3.7h-3.7zM434.45 55.47h3.7v3.7h-3.7zM437.27 57.37h3.7v3.7h-3.7zM440.08 63.86h3.7v3.7h-3.7zM442.9 74.23h3.7v3.7h-3.7zM445.71 87.44h3.7v3.7h-3.7zM448.53 102.25h3.7v3.7h-3.7zM451.34 117.4h3.7v3.7h-3.7zM454.16 131.84h3.7v3.7h-3.7zM456.97 144.78h3.7v3.7h-3.7zM459.79 155.73h3.7v3.7h-3.7zM462.6 164.55h3.7v3.7h-3.7zM465.42 171.32h3.7v3.7h-3.7zM468.23 176.27h3.7v3.7h-3.7zM471.05 179.73h3.7v3.7h-3.7zM473.86 182.05h3.7v3.7h-3.7zM476.68 183.54h3.7v3.7h-3.7zM479.49 184.46h3.7v3.7h-3.7zM482.31 185h3.7v3.7h-3.7zM485.12 185.31h3.7v3.7h-3.7zM487.94 185.48h3.7v3.7h-3.7zM490.75 185.57h3.7v3.7h-3.7zM493.57 185.61h3.7v3.7h-3.7zM496.38 185.63h3.7v3.7h-3.7zM499.2 185.64h3.7v3.7h-3.7zM502.01 185.65h3.7v3.7h-3.7zM504.83 185.65h3.7v3.7h-3.7zM507.64 185.65h3.7v3.7h-3.7zM510.46 185.65h3.7v3.7h-3.7zM513.27 185.65h3.7v3.7h-3.7zM516.09 185.65h3.7v3.7h-3.7zM518.9 185.65h3.7v3.7h-3.7zM521.72 185.65h3.7v3.7h-3.7zM524.53 185.65h3.7v3.7h-3.7zM527.35 185.65h3.7v3.7h-3.7zM530.16 185.65h3.7v3.7h-3.7zM532.98 185.65h3.7v3.7h-3.7zM535.79 185.65h3.7v3.7h-3.7zM538.61 185.65h3.7v3.7h-3.7zM541.42 185.65h3.7v3.7h-3.7zM544.24 185.65h3.7v3.7h-3.7zM547.05 185.65h3.7v3.7h-3.7z" fill="#00ff00"/>
<polyline points="327.98,187.5 330.8,187.5 333.61,187.5 336.43,187.5 339.24,187.5 342.06,187.5 344.87,187.5 347.69,187.5 350.5,187.5 353.32,187.5 356.13,187.5 358.95,187.5 361.76,187.5 364.58,187.5 367.39,187.5 370.21,187.5 373.02,187.5 375.84,187.49 378.65,187.49 381.47,187.47 384.28,187.43 387.1,187.37 389.91,187.24 392.73,187 395.54,186.58 398.36,185.87 401.17,184.72 403.99,182.91 406.8,180.19 409.62,176.27 412.43,170.82 415.25,163.6 418.06,154.44 420.88,143.34 423.69,130.56 426.51,116.63 429.32,98.7 432.14,85 434.95,80.3 437.77,68 440.58,56.5 443.4,65.1 446.21,66.4 449.03,75.9 451.84,84.8 454.66,101.9 457.47,108.47 460.29,122.35 463.1,135.57 465.92,147.46 468.73,157.64 471.55,165.97 474.36,172.48 477.18,177.37 479.99,180.89 482.81,183.33 485.62,184.96 488.44,186 491.25,186.64 494.07,187.03 496.88,187.25 499.7,187.37 502.51,187.43 505.33,187.47 508.14,187.49 510.96,187.49 513.77,187.5 516.59,187.5 519.4,187.5 522.22,187.5 525.03,187.5 527.85,187.5 530.66,187.5 533.48,187.5 536.29,187.5 539.11,187.5 541.92,187.5 544.74,187.5 547.55,187.5 550.37,187.5" fill="none" stroke="#000000" stroke-width="0.95" stroke-linejoin="round"/><path d="M326.13 185.65h3.7v3.7h-3.7zM328.95 185.65h3.7v3.7h-3.7zM331.76 185.65h3.7v3.7h-3.7zM334.58 185.65h3.7v3.7h-3.7zM337.39 185.65h3.7v3.7h-3.7zM340.21 185.65h3.7v3.7h-3.7zM343.02 185.65h3.7v3.7h-3.7zM345.84 185.65h3.7v3.7h-3.7zM348.65 185.65h3.7v3.7h-3.7zM351.47 185.65h3.7v3.7h-3.7zM354.28 185.65h3.7v3.7h-3.7zM357.1 185.65h3.7v3.7h-3.7zM359.91 185.65h3.7v3.7h-3.7zM362.73 185.65h3.7v3.7h-3.7zM365.54 185.65h3.7v3.7h-3.7zM368.36 185.65h3.7v3.7h-3.7zM371.17 185.65h3.7v3.7h-3.7zM373.99 185.64h3.7v3.7h-3.7zM376.8 185.64h3.7v3.7h-3.7zM379.62 185.62h3.7v3.7h-3.7zM382.43 185.58h3.7v3.7h-3.7zM385.25 185.52h3.7v3.7h-3.7zM388.06 185.39h3.7v3.7h-3.7zM390.88 185.15h3.7v3.7h-3.7zM393.69 184.73h3.7v3.7h-3.7zM396.51 184.02h3.7v3.7h-3.7zM399.32 182.87h3.7v3.7h-3.7zM402.14 181.06h3.7v3.7h-3.7zM404.95 178.34h3.7v3.7h-3.7zM407.77 174.42h3.7v3.7h-3.7zM410.58 168.97h3.7v3.7h-3.7zM413.4 161.75h3.7v3.7h-3.7zM416.21 152.59h3.7v3.7h-3.7zM419.03 141.49h3.7v3.7h-3.7zM421.84 128.71h3.7v3.7h-3.7zM424.66 114.78h3.7v3.7h-3.7zM427.47 96.85h3.7v3.7h-3.7zM430.29 83.15h3.7v3.7h-3.7zM433.1 78.45h3.7v3.7h-3.7zM435.92 66.15h3.7v3.7h-3.7zM438.73 54.65h3.7v3.7h-3.7zM441.55 63.25h3.7v3.7h-3.7zM444.36 64.55h3.7v3.7h-3.7zM447.18 74.05h3.7v3.7h-3.7zM449.99 82.95h3.7v3.7h-3.7zM452.81 100.05h3.7v3.7h-3.7zM455.62 106.62h3.7v3.7h-3.7zM458.44 120.5h3.7v3.7h-3.7zM461.25 133.72h3.7v3.7h-3.7zM464.07 145.61h3.7v3.7h-3.7zM466.88 155.79h3.7v3.7h-3.7zM469.7 164.12h3.7v3.7h-3.7zM472.51 170.63h3.7v3.7h-3.7zM475.33 175.52h3.7v3.7h-3.7zM478.14 179.04h3.7v3.7h-3.7zM480.96 181.48h3.7v3.7h-3.7zM483.77 183.11h3.7v3.7h-3.7zM486.59 184.15h3.7v3.7h-3.7zM489.4 184.79h3.7v3.7h-3.7zM492.22 185.18h3.7v3.7h-3.7zM495.03 185.4h3.7v3.7h-3.7zM497.85 185.52h3.7v3.7h-3.7zM500.66 185.58h3.7v3.7h-3.7zM503.48 185.62h3.7v3.7h-3.7zM506.29 185.64h3.7v3.7h-3.7zM509.11 185.64h3.7v3.7h-3.7zM511.92 185.65h3.7v3.7h-3.7zM514.74 185.65h3.7v3.7h-3.7zM517.55 185.65h3.7v3.7h-3.7zM520.37 185.65h3.7v3.7h-3.7zM523.18 185.65h3.7v3.7h-3.7zM526 185.65h3.7v3.7h-3.7zM528.81 185.65h3.7v3.7h-3.7zM531.63 185.65h3.7v3.7h-3.7zM534.44 185.65h3.7v3.7h-3.7zM537.26 185.65h3.7v3.7h-3.7zM540.07 185.65h3.7v3.7h-3.7zM542.89 185.65h3.7v3.7h-3.7zM545.7 185.65h3.7v3.7h-3.7zM548.52 185.65h3.7v3.7h-3.7z" fill="#000000"/>
<polyline points="327.98,187.5 330.8,187.5 333.61,187.5 336.43,187.5 339.24,187.5 342.06,187.5 344.87,187.5 347.69,187.5 350.5,187.5 353.32,187.5 356.13,187.5 358.95,187.5 361.76,187.5 364.58,187.5 367.39,187.49 370.21,187.48 373.02,187.45 375.84,187.4 378.65,187.31 381.47,187.13 384.28,186.82 387.1,186.29 389.91,185.41 392.73,184.02 395.54,181.89 398.36,178.76 401.17,174.35 403.99,168.35 406.8,160.56 409.62,150.85 412.43,139.3 415.25,126.23 418.06,112.2 420.88,98.04 423.69,84.75 426.51,73.42 429.32,65.05 432.14,60.45 434.95,60.06 437.77,63.93 440.58,71.66 443.4,82.53 446.21,95.54 449.03,109.62 451.84,123.74 454.66,137.04 457.47,148.89 460.29,158.95 463.1,167.08 465.92,173.39 468.73,178.07 471.55,181.41 474.36,183.7 477.18,185.2 479.99,186.16 482.81,186.74 485.62,187.09 488.44,187.28 491.25,187.39 494.07,187.45 496.88,187.47 499.7,187.49 502.51,187.49 505.33,187.5 508.14,187.5 510.96,187.5 513.77,187.5 516.59,187.5 519.4,187.5 522.22,187.5 525.03,187.5 527.85,187.5 530.66,187.5 533.48,187.5 536.29,187.5 539.11,187.5 541.92,187.5 544.74,187.5 547.55,187.5 550.37,187.5" fill="none" stroke="#ff0000" stroke-width="0.95" stroke-linejoin="round"/><path d="M326.13 185.65h3.7v3.7h-3.7zM328.95 185.65h3.7v3.7h-3.7zM331.76 185.65h3.7v3.7h-3.7zM334.58 185.65h3.7v3.7h-3.7zM337.39 185.65h3.7v3.7h-3.7zM340.21 185.65h3.7v3.7h-3.7zM343.02 185.65h3.7v3.7h-3.7zM345.84 185.65h3.7v3.7h-3.7zM348.65 185.65h3.7v3.7h-3.7zM351.47 185.65h3.7v3.7h-3.7zM354.28 185.65h3.7v3.7h-3.7zM357.1 185.65h3.7v3.7h-3.7zM359.91 185.65h3.7v3.7h-3.7zM362.73 185.65h3.7v3.7h-3.7zM365.54 185.64h3.7v3.7h-3.7zM368.36 185.63h3.7v3.7h-3.7zM371.17 185.6h3.7v3.7h-3.7zM373.99 185.55h3.7v3.7h-3.7zM376.8 185.46h3.7v3.7h-3.7zM379.62 185.28h3.7v3.7h-3.7zM382.43 184.97h3.7v3.7h-3.7zM385.25 184.44h3.7v3.7h-3.7zM388.06 183.56h3.7v3.7h-3.7zM390.88 182.17h3.7v3.7h-3.7zM393.69 180.04h3.7v3.7h-3.7zM396.51 176.91h3.7v3.7h-3.7zM399.32 172.5h3.7v3.7h-3.7zM402.14 166.5h3.7v3.7h-3.7zM404.95 158.71h3.7v3.7h-3.7zM407.77 149h3.7v3.7h-3.7zM410.58 137.45h3.7v3.7h-3.7zM413.4 124.38h3.7v3.7h-3.7zM416.21 110.35h3.7v3.7h-3.7zM419.03 96.19h3.7v3.7h-3.7zM421.84 82.9h3.7v3.7h-3.7zM424.66 71.57h3.7v3.7h-3.7zM427.47 63.2h3.7v3.7h-3.7zM430.29 58.6h3.7v3.7h-3.7zM433.1 58.21h3.7v3.7h-3.7zM435.92 62.08h3.7v3.7h-3.7zM438.73 69.81h3.7v3.7h-3.7zM441.55 80.68h3.7v3.7h-3.7zM444.36 93.69h3.7v3.7h-3.7zM447.18 107.77h3.7v3.7h-3.7zM449.99 121.89h3.7v3.7h-3.7zM452.81 135.19h3.7v3.7h-3.7zM455.62 147.04h3.7v3.7h-3.7zM458.44 157.1h3.7v3.7h-3.7zM461.25 165.23h3.7v3.7h-3.7zM464.07 171.54h3.7v3.7h-3.7zM466.88 176.22h3.7v3.7h-3.7zM469.7 179.56h3.7v3.7h-3.7zM472.51 181.85h3.7v3.7h-3.7zM475.33 183.35h3.7v3.7h-3.7zM478.14 184.31h3.7v3.7h-3.7zM480.96 184.89h3.7v3.7h-3.7zM483.77 185.24h3.7v3.7h-3.7zM486.59 185.43h3.7v3.7h-3.7zM489.4 185.54h3.7v3.7h-3.7zM492.22 185.6h3.7v3.7h-3.7zM495.03 185.62h3.7v3.7h-3.7zM497.85 185.64h3.7v3.7h-3.7zM500.66 185.64h3.7v3.7h-3.7zM503.48 185.65h3.7v3.7h-3.7zM506.29 185.65h3.7v3.7h-3.7zM509.11 185.65h3.7v3.7h-3.7zM511.92 185.65h3.7v3.7h-3.7zM514.74 185.65h3.7v3.7h-3.7zM517.55 185.65h3.7v3.7h-3.7zM520.37 185.65h3.7v3.7h-3.7zM523.18 185.65h3.7v3.7h-3.7zM526 185.65h3.7v3.7h-3.7zM528.81 185.65h3.7v3.7h-3.7zM531.63 185.65h3.7v3.7h-3.7zM534.44 185.65h3.7v3.7h-3.7zM537.26 185.65h3.7v3.7h-3.7zM540.07 185.65h3.7v3.7h-3.7zM542.89 185.65h3.7v3.7h-3.7zM545.7 185.65h3.7v3.7h-3.7zM548.52 185.65h3.7v3.7h-3.7z" fill="#ff0000"/>
</g>
<text x="334.9" y="201.2" text-anchor="middle" class="tl">0.1</text><text x="475.6" y="201.2" text-anchor="middle" class="tl">0.15</text><text x="321.85" y="192.2" text-anchor="end" class="tl">0</text><text x="321.85" y="175.2" text-anchor="end" class="tl">0.01</text><text x="321.85" y="158.2" text-anchor="end" class="tl">0.02</text><text x="321.85" y="141.2" text-anchor="end" class="tl">0.03</text><text x="321.85" y="124.2" text-anchor="end" class="tl">0.04</text><text x="321.85" y="107.2" text-anchor="end" class="tl">0.05</text><text x="321.85" y="90.2" text-anchor="end" class="tl">0.06</text><text x="321.85" y="73.2" text-anchor="end" class="tl">0.07</text><text x="321.85" y="56.2" text-anchor="end" class="tl">0.08</text><text transform="translate(294.25 50.15) rotate(-90)" text-anchor="end" class="yt">Likelihood pdf</text><text transform="translate(551.15 219.4) scale(1.17 1)" text-anchor="end" class="sym" font-size="17.2">&#945;</text>
</g>
<g>
<path d="M660 187.5V49.95M800.5 187.5V49.95M600.8 171.05H826M600.8 154.6H826M600.8 138.15H826M600.8 121.7H826M600.8 105.25H826M600.8 88.8H826M600.8 72.35H826M600.8 55.9H826" stroke="#000" stroke-width="1" stroke-dasharray="1 1.7" fill="none"/>
<path d="M603.8 187.5v-3.6M631.9 187.5v-3.6M660 187.5v-7.2M688.1 187.5v-3.6M716.2 187.5v-3.6M744.3 187.5v-3.6M772.4 187.5v-3.6M800.5 187.5v-7.2M600.8 184.21h3.7M600.8 180.92h3.7M600.8 177.63h3.7M600.8 174.34h3.7M600.8 171.05h7.4M600.8 167.76h3.7M600.8 164.47h3.7M600.8 161.18h3.7M600.8 157.89h3.7M600.8 154.6h7.4M600.8 151.31h3.7M600.8 148.02h3.7M600.8 144.73h3.7M600.8 141.44h3.7M600.8 138.15h7.4M600.8 134.86h3.7M600.8 131.57h3.7M600.8 128.28h3.7M600.8 124.99h3.7M600.8 121.7h7.4M600.8 118.41h3.7M600.8 115.12h3.7M600.8 111.83h3.7M600.8 108.54h3.7M600.8 105.25h7.4M600.8 101.96h3.7M600.8 98.67h3.7M600.8 95.38h3.7M600.8 92.09h3.7M600.8 88.8h7.4M600.8 85.51h3.7M600.8 82.22h3.7M600.8 78.93h3.7M600.8 75.64h3.7M600.8 72.35h7.4M600.8 69.06h3.7M600.8 65.77h3.7M600.8 62.48h3.7M600.8 59.19h3.7M600.8 55.9h7.4M600.8 52.61h3.7" stroke="#000" stroke-width="1" fill="none"/><rect x="600.8" y="49.95" width="225.2" height="137.55" fill="none" stroke="#000" stroke-width="1"/>
<path d="M724.5 187.5V49.95" stroke="#2020ff" stroke-width="1" stroke-dasharray="3.2 2.1" fill="none"/>
<clipPath id="c02"><rect x="601.2" y="49.35" width="225.4" height="138.85"/></clipPath><g clip-path="url(#c02)">
<polyline points="603.56,187.5 606.37,187.5 609.19,187.5 612,187.5 614.82,187.5 617.63,187.5 620.45,187.5 623.26,187.5 626.08,187.5 628.89,187.5 631.71,187.5 634.52,187.5 637.34,187.5 640.15,187.5 642.97,187.5 645.78,187.5 648.6,187.49 651.41,187.48 654.23,187.46 657.04,187.41 659.86,187.31 662.67,187.11 665.49,186.75 668.3,186.09 671.12,184.97 673.93,183.14 676.75,180.29 679.56,176.05 682.38,170.03 685.19,161.89 688.01,151.46 690.82,138.78 693.64,124.26 696.45,108.65 699.27,93.09 702.08,78.95 704.9,67.62 707.71,60.36 710.53,58.01 713.34,60.83 716.16,68.5 718.97,80.14 721.79,94.48 724.6,110.1 727.42,125.64 730.23,140.03 733.05,152.51 735.86,162.73 738.68,170.66 741.49,176.51 744.31,180.61 747.12,183.35 749.94,185.1 752.75,186.17 755.57,186.79 758.38,187.14 761.2,187.32 764.01,187.42 766.83,187.46 769.64,187.48 772.46,187.49 775.27,187.5 778.09,187.5 780.9,187.5 783.72,187.5 786.53,187.5 789.35,187.5 792.16,187.5 794.98,187.5 797.79,187.5 800.61,187.5 803.42,187.5 806.24,187.5 809.05,187.5 811.87,187.5 814.68,187.5 817.5,187.5 820.31,187.5 823.13,187.5 825.94,187.5" fill="none" stroke="#ff00ff" stroke-width="0.95" stroke-linejoin="round"/><path d="M602.51 186.45h2.1v2.1h-2.1zM605.32 186.45h2.1v2.1h-2.1zM608.14 186.45h2.1v2.1h-2.1zM610.95 186.45h2.1v2.1h-2.1zM613.77 186.45h2.1v2.1h-2.1zM616.58 186.45h2.1v2.1h-2.1zM619.4 186.45h2.1v2.1h-2.1zM622.21 186.45h2.1v2.1h-2.1zM625.03 186.45h2.1v2.1h-2.1zM627.84 186.45h2.1v2.1h-2.1zM630.66 186.45h2.1v2.1h-2.1zM633.47 186.45h2.1v2.1h-2.1zM636.29 186.45h2.1v2.1h-2.1zM639.1 186.45h2.1v2.1h-2.1zM641.92 186.45h2.1v2.1h-2.1zM644.73 186.45h2.1v2.1h-2.1zM647.55 186.44h2.1v2.1h-2.1zM650.36 186.43h2.1v2.1h-2.1zM653.18 186.41h2.1v2.1h-2.1zM655.99 186.36h2.1v2.1h-2.1zM658.81 186.26h2.1v2.1h-2.1zM661.62 186.06h2.1v2.1h-2.1zM664.44 185.7h2.1v2.1h-2.1zM667.25 185.04h2.1v2.1h-2.1zM670.07 183.92h2.1v2.1h-2.1zM672.88 182.09h2.1v2.1h-2.1zM675.7 179.24h2.1v2.1h-2.1zM678.51 175h2.1v2.1h-2.1zM681.33 168.98h2.1v2.1h-2.1zM684.14 160.84h2.1v2.1h-2.1zM686.96 150.41h2.1v2.1h-2.1zM689.77 137.73h2.1v2.1h-2.1zM692.59 123.21h2.1v2.1h-2.1zM695.4 107.6h2.1v2.1h-2.1zM698.22 92.04h2.1v2.1h-2.1zM701.03 77.9h2.1v2.1h-2.1zM703.85 66.57h2.1v2.1h-2.1zM706.66 59.31h2.1v2.1h-2.1zM709.48 56.96h2.1v2.1h-2.1zM712.29 59.78h2.1v2.1h-2.1zM715.11 67.45h2.1v2.1h-2.1zM717.92 79.09h2.1v2.1h-2.1zM720.74 93.43h2.1v2.1h-2.1zM723.55 109.05h2.1v2.1h-2.1zM726.37 124.59h2.1v2.1h-2.1zM729.18 138.98h2.1v2.1h-2.1zM732 151.46h2.1v2.1h-2.1zM734.81 161.68h2.1v2.1h-2.1zM737.63 169.61h2.1v2.1h-2.1zM740.44 175.46h2.1v2.1h-2.1zM743.26 179.56h2.1v2.1h-2.1zM746.07 182.3h2.1v2.1h-2.1zM748.89 184.05h2.1v2.1h-2.1zM751.7 185.12h2.1v2.1h-2.1zM754.52 185.74h2.1v2.1h-2.1zM757.33 186.09h2.1v2.1h-2.1zM760.15 186.27h2.1v2.1h-2.1zM762.96 186.37h2.1v2.1h-2.1zM765.78 186.41h2.1v2.1h-2.1zM768.59 186.43h2.1v2.1h-2.1zM771.41 186.44h2.1v2.1h-2.1zM774.22 186.45h2.1v2.1h-2.1zM777.04 186.45h2.1v2.1h-2.1zM779.85 186.45h2.1v2.1h-2.1zM782.67 186.45h2.1v2.1h-2.1zM785.48 186.45h2.1v2.1h-2.1zM788.3 186.45h2.1v2.1h-2.1zM791.11 186.45h2.1v2.1h-2.1zM793.93 186.45h2.1v2.1h-2.1zM796.74 186.45h2.1v2.1h-2.1zM799.56 186.45h2.1v2.1h-2.1zM802.37 186.45h2.1v2.1h-2.1zM805.19 186.45h2.1v2.1h-2.1zM808 186.45h2.1v2.1h-2.1zM810.82 186.45h2.1v2.1h-2.1zM813.63 186.45h2.1v2.1h-2.1zM816.45 186.45h2.1v2.1h-2.1zM819.26 186.45h2.1v2.1h-2.1zM822.08 186.45h2.1v2.1h-2.1zM824.89 186.45h2.1v2.1h-2.1z" fill="#ff00ff"/>
<polyline points="603.39,187.5 606.2,187.5 609.02,187.5 611.83,187.5 614.65,187.5 617.46,187.5 620.28,187.5 623.09,187.5 625.91,187.5 628.72,187.5 631.54,187.5 634.35,187.5 637.17,187.5 639.98,187.5 642.8,187.5 645.61,187.49 648.43,187.48 651.24,187.45 654.06,187.39 656.87,187.28 659.69,187.06 662.5,186.67 665.32,185.97 668.13,184.8 670.95,182.92 673.76,180.02 676.58,175.75 679.39,169.74 682.21,161.68 685.02,151.38 687.84,138.9 690.65,124.58 693.47,109.14 696.28,93.63 699.1,79.32 701.91,67.57 704.73,59.59 707.54,56.27 710.36,57.98 713.17,64.52 715.99,75.17 718.8,88.81 721.62,104.08 724.43,119.67 727.25,134.44 730.06,147.57 732.88,158.6 735.69,167.37 738.51,174.02 741.32,178.81 744.14,182.11 746.95,184.29 749.77,185.66 752.58,186.48 755.4,186.96 758.21,187.22 761.03,187.36 763.84,187.44 766.66,187.47 769.47,187.49 772.29,187.49 775.1,187.5 777.92,187.5 780.73,187.5 783.55,187.5 786.36,187.5 789.18,187.5 791.99,187.5 794.81,187.5 797.62,187.5 800.44,187.5 803.25,187.5 806.07,187.5 808.88,187.5 811.7,187.5 814.51,187.5 817.33,187.5 820.14,187.5 822.96,187.5 825.77,187.5" fill="none" stroke="#00ff00" stroke-width="0.95" stroke-linejoin="round"/><path d="M601.54 185.65h3.7v3.7h-3.7zM604.35 185.65h3.7v3.7h-3.7zM607.17 185.65h3.7v3.7h-3.7zM609.98 185.65h3.7v3.7h-3.7zM612.8 185.65h3.7v3.7h-3.7zM615.61 185.65h3.7v3.7h-3.7zM618.43 185.65h3.7v3.7h-3.7zM621.24 185.65h3.7v3.7h-3.7zM624.06 185.65h3.7v3.7h-3.7zM626.87 185.65h3.7v3.7h-3.7zM629.69 185.65h3.7v3.7h-3.7zM632.5 185.65h3.7v3.7h-3.7zM635.32 185.65h3.7v3.7h-3.7zM638.13 185.65h3.7v3.7h-3.7zM640.95 185.65h3.7v3.7h-3.7zM643.76 185.64h3.7v3.7h-3.7zM646.58 185.63h3.7v3.7h-3.7zM649.39 185.6h3.7v3.7h-3.7zM652.21 185.54h3.7v3.7h-3.7zM655.02 185.43h3.7v3.7h-3.7zM657.84 185.21h3.7v3.7h-3.7zM660.65 184.82h3.7v3.7h-3.7zM663.47 184.12h3.7v3.7h-3.7zM666.28 182.95h3.7v3.7h-3.7zM669.1 181.07h3.7v3.7h-3.7zM671.91 178.17h3.7v3.7h-3.7zM674.73 173.9h3.7v3.7h-3.7zM677.54 167.89h3.7v3.7h-3.7zM680.36 159.83h3.7v3.7h-3.7zM683.17 149.53h3.7v3.7h-3.7zM685.99 137.05h3.7v3.7h-3.7zM688.8 122.73h3.7v3.7h-3.7zM691.62 107.29h3.7v3.7h-3.7zM694.43 91.78h3.7v3.7h-3.7zM697.25 77.47h3.7v3.7h-3.7zM700.06 65.72h3.7v3.7h-3.7zM702.88 57.74h3.7v3.7h-3.7zM705.69 54.42h3.7v3.7h-3.7zM708.51 56.13h3.7v3.7h-3.7zM711.32 62.67h3.7v3.7h-3.7zM714.14 73.32h3.7v3.7h-3.7zM716.95 86.96h3.7v3.7h-3.7zM719.77 102.23h3.7v3.7h-3.7zM722.58 117.82h3.7v3.7h-3.7zM725.4 132.59h3.7v3.7h-3.7zM728.21 145.72h3.7v3.7h-3.7zM731.03 156.75h3.7v3.7h-3.7zM733.84 165.52h3.7v3.7h-3.7zM736.66 172.17h3.7v3.7h-3.7zM739.47 176.96h3.7v3.7h-3.7zM742.29 180.26h3.7v3.7h-3.7zM745.1 182.44h3.7v3.7h-3.7zM747.92 183.81h3.7v3.7h-3.7zM750.73 184.63h3.7v3.7h-3.7zM753.55 185.11h3.7v3.7h-3.7zM756.36 185.37h3.7v3.7h-3.7zM759.18 185.51h3.7v3.7h-3.7zM761.99 185.59h3.7v3.7h-3.7zM764.81 185.62h3.7v3.7h-3.7zM767.62 185.64h3.7v3.7h-3.7zM770.44 185.64h3.7v3.7h-3.7zM773.25 185.65h3.7v3.7h-3.7zM776.07 185.65h3.7v3.7h-3.7zM778.88 185.65h3.7v3.7h-3.7zM781.7 185.65h3.7v3.7h-3.7zM784.51 185.65h3.7v3.7h-3.7zM787.33 185.65h3.7v3.7h-3.7zM790.14 185.65h3.7v3.7h-3.7zM792.96 185.65h3.7v3.7h-3.7zM795.77 185.65h3.7v3.7h-3.7zM798.59 185.65h3.7v3.7h-3.7zM801.4 185.65h3.7v3.7h-3.7zM804.22 185.65h3.7v3.7h-3.7zM807.03 185.65h3.7v3.7h-3.7zM809.85 185.65h3.7v3.7h-3.7zM812.66 185.65h3.7v3.7h-3.7zM815.48 185.65h3.7v3.7h-3.7zM818.29 185.65h3.7v3.7h-3.7zM821.11 185.65h3.7v3.7h-3.7zM823.92 185.65h3.7v3.7h-3.7z" fill="#00ff00"/>
<polyline points="603.39,187.5 606.2,187.5 609.02,187.5 611.83,187.5 614.65,187.5 617.46,187.5 620.28,187.5 623.09,187.5 625.91,187.5 628.72,187.5 631.54,187.5 634.35,187.5 637.17,187.5 639.98,187.5 642.8,187.5 645.61,187.5 648.43,187.5 651.24,187.49 654.06,187.49 656.87,187.47 659.69,187.44 662.5,187.38 665.32,187.26 668.13,187.04 670.95,186.64 673.76,185.95 676.58,184.81 679.39,183.02 682.21,180.29 685.02,176.32 687.84,170.8 690.65,163.48 693.47,154.19 696.28,143.01 699.1,130.24 701.91,111.3 704.73,94.8 707.54,84.1 710.36,77.1 713.17,71.5 715.99,68.1 718.8,68.5 721.62,79.4 724.43,85 727.25,96.3 730.06,105.3 732.88,106 735.69,122.2 738.51,135.7 741.32,158.37 744.14,166.82 746.95,173.35 749.77,178.17 752.58,181.58 755.4,183.88 758.21,185.36 761.03,186.29 763.84,186.84 766.66,187.15 769.47,187.32 772.29,187.41 775.1,187.46 777.92,187.48 780.73,187.49 783.55,187.5 786.36,187.5 789.18,187.5 791.99,187.5 794.81,187.5 797.62,187.5 800.44,187.5 803.25,187.5 806.07,187.5 808.88,187.5 811.7,187.5 814.51,187.5 817.33,187.5 820.14,187.5 822.96,187.5 825.77,187.5" fill="none" stroke="#000000" stroke-width="0.95" stroke-linejoin="round"/><path d="M601.54 185.65h3.7v3.7h-3.7zM604.35 185.65h3.7v3.7h-3.7zM607.17 185.65h3.7v3.7h-3.7zM609.98 185.65h3.7v3.7h-3.7zM612.8 185.65h3.7v3.7h-3.7zM615.61 185.65h3.7v3.7h-3.7zM618.43 185.65h3.7v3.7h-3.7zM621.24 185.65h3.7v3.7h-3.7zM624.06 185.65h3.7v3.7h-3.7zM626.87 185.65h3.7v3.7h-3.7zM629.69 185.65h3.7v3.7h-3.7zM632.5 185.65h3.7v3.7h-3.7zM635.32 185.65h3.7v3.7h-3.7zM638.13 185.65h3.7v3.7h-3.7zM640.95 185.65h3.7v3.7h-3.7zM643.76 185.65h3.7v3.7h-3.7zM646.58 185.65h3.7v3.7h-3.7zM649.39 185.64h3.7v3.7h-3.7zM652.21 185.64h3.7v3.7h-3.7zM655.02 185.62h3.7v3.7h-3.7zM657.84 185.59h3.7v3.7h-3.7zM660.65 185.53h3.7v3.7h-3.7zM663.47 185.41h3.7v3.7h-3.7zM666.28 185.19h3.7v3.7h-3.7zM669.1 184.79h3.7v3.7h-3.7zM671.91 184.1h3.7v3.7h-3.7zM674.73 182.96h3.7v3.7h-3.7zM677.54 181.17h3.7v3.7h-3.7zM680.36 178.44h3.7v3.7h-3.7zM683.17 174.47h3.7v3.7h-3.7zM685.99 168.95h3.7v3.7h-3.7zM688.8 161.63h3.7v3.7h-3.7zM691.62 152.34h3.7v3.7h-3.7zM694.43 141.16h3.7v3.7h-3.7zM697.25 128.39h3.7v3.7h-3.7zM700.06 109.45h3.7v3.7h-3.7zM702.88 92.95h3.7v3.7h-3.7zM705.69 82.25h3.7v3.7h-3.7zM708.51 75.25h3.7v3.7h-3.7zM711.32 69.65h3.7v3.7h-3.7zM714.14 66.25h3.7v3.7h-3.7zM716.95 66.65h3.7v3.7h-3.7zM719.77 77.55h3.7v3.7h-3.7zM722.58 83.15h3.7v3.7h-3.7zM725.4 94.45h3.7v3.7h-3.7zM728.21 103.45h3.7v3.7h-3.7zM731.03 104.15h3.7v3.7h-3.7zM733.84 120.35h3.7v3.7h-3.7zM736.66 133.85h3.7v3.7h-3.7zM739.47 156.52h3.7v3.7h-3.7zM742.29 164.97h3.7v3.7h-3.7zM745.1 171.5h3.7v3.7h-3.7zM747.92 176.32h3.7v3.7h-3.7zM750.73 179.73h3.7v3.7h-3.7zM753.55 182.03h3.7v3.7h-3.7zM756.36 183.51h3.7v3.7h-3.7zM759.18 184.44h3.7v3.7h-3.7zM761.99 184.99h3.7v3.7h-3.7zM764.81 185.3h3.7v3.7h-3.7zM767.62 185.47h3.7v3.7h-3.7zM770.44 185.56h3.7v3.7h-3.7zM773.25 185.61h3.7v3.7h-3.7zM776.07 185.63h3.7v3.7h-3.7zM778.88 185.64h3.7v3.7h-3.7zM781.7 185.65h3.7v3.7h-3.7zM784.51 185.65h3.7v3.7h-3.7zM787.33 185.65h3.7v3.7h-3.7zM790.14 185.65h3.7v3.7h-3.7zM792.96 185.65h3.7v3.7h-3.7zM795.77 185.65h3.7v3.7h-3.7zM798.59 185.65h3.7v3.7h-3.7zM801.4 185.65h3.7v3.7h-3.7zM804.22 185.65h3.7v3.7h-3.7zM807.03 185.65h3.7v3.7h-3.7zM809.85 185.65h3.7v3.7h-3.7zM812.66 185.65h3.7v3.7h-3.7zM815.48 185.65h3.7v3.7h-3.7zM818.29 185.65h3.7v3.7h-3.7zM821.11 185.65h3.7v3.7h-3.7zM823.92 185.65h3.7v3.7h-3.7z" fill="#000000"/>
<polyline points="601.03,187.5 603.84,187.5 606.66,187.5 609.47,187.5 612.29,187.5 615.1,187.5 617.92,187.5 620.73,187.5 623.55,187.5 626.36,187.5 629.18,187.5 631.99,187.5 634.81,187.5 637.62,187.5 640.44,187.5 643.25,187.5 646.07,187.5 648.88,187.5 651.7,187.49 654.51,187.47 657.33,187.44 660.14,187.38 662.96,187.25 665.77,187.01 668.59,186.58 671.4,185.82 674.22,184.56 677.03,182.54 679.85,179.47 682.66,174.98 685.48,168.73 688.29,160.42 691.11,149.92 693.92,137.33 696.74,123.07 699.55,107.9 702.37,92.9 705.18,79.35 708,68.55 710.81,61.65 713.63,59.4 716.44,62.08 719.26,69.37 722.07,80.46 724.89,94.2 727.7,109.26 730.52,124.39 733.33,138.53 736.15,150.94 738.96,161.25 741.78,169.36 744.59,175.45 747.41,179.79 750.22,182.76 753.04,184.7 755.85,185.9 758.67,186.63 761.48,187.04 764.3,187.27 767.11,187.39 769.93,187.45 772.74,187.48 775.56,187.49 778.37,187.5 781.19,187.5 784,187.5 786.82,187.5 789.63,187.5 792.45,187.5 795.26,187.5 798.08,187.5 800.89,187.5 803.71,187.5 806.52,187.5 809.34,187.5 812.15,187.5 814.97,187.5 817.78,187.5 820.6,187.5 823.41,187.5" fill="none" stroke="#ff0000" stroke-width="0.95" stroke-linejoin="round"/><path d="M601.99 185.65h3.7v3.7h-3.7zM604.81 185.65h3.7v3.7h-3.7zM607.62 185.65h3.7v3.7h-3.7zM610.44 185.65h3.7v3.7h-3.7zM613.25 185.65h3.7v3.7h-3.7zM616.07 185.65h3.7v3.7h-3.7zM618.88 185.65h3.7v3.7h-3.7zM621.7 185.65h3.7v3.7h-3.7zM624.51 185.65h3.7v3.7h-3.7zM627.33 185.65h3.7v3.7h-3.7zM630.14 185.65h3.7v3.7h-3.7zM632.96 185.65h3.7v3.7h-3.7zM635.77 185.65h3.7v3.7h-3.7zM638.59 185.65h3.7v3.7h-3.7zM641.4 185.65h3.7v3.7h-3.7zM644.22 185.65h3.7v3.7h-3.7zM647.03 185.65h3.7v3.7h-3.7zM649.85 185.64h3.7v3.7h-3.7zM652.66 185.62h3.7v3.7h-3.7zM655.48 185.59h3.7v3.7h-3.7zM658.29 185.53h3.7v3.7h-3.7zM661.11 185.4h3.7v3.7h-3.7zM663.92 185.16h3.7v3.7h-3.7zM666.74 184.73h3.7v3.7h-3.7zM669.55 183.97h3.7v3.7h-3.7zM672.37 182.71h3.7v3.7h-3.7zM675.18 180.69h3.7v3.7h-3.7zM678 177.62h3.7v3.7h-3.7zM680.81 173.13h3.7v3.7h-3.7zM683.63 166.88h3.7v3.7h-3.7zM686.44 158.57h3.7v3.7h-3.7zM689.26 148.07h3.7v3.7h-3.7zM692.07 135.48h3.7v3.7h-3.7zM694.89 121.22h3.7v3.7h-3.7zM697.7 106.05h3.7v3.7h-3.7zM700.52 91.05h3.7v3.7h-3.7zM703.33 77.5h3.7v3.7h-3.7zM706.15 66.7h3.7v3.7h-3.7zM708.96 59.8h3.7v3.7h-3.7zM711.78 57.55h3.7v3.7h-3.7zM714.59 60.23h3.7v3.7h-3.7zM717.41 67.52h3.7v3.7h-3.7zM720.22 78.61h3.7v3.7h-3.7zM723.04 92.35h3.7v3.7h-3.7zM725.85 107.41h3.7v3.7h-3.7zM728.67 122.54h3.7v3.7h-3.7zM731.48 136.68h3.7v3.7h-3.7zM734.3 149.09h3.7v3.7h-3.7zM737.11 159.4h3.7v3.7h-3.7zM739.93 167.51h3.7v3.7h-3.7zM742.74 173.6h3.7v3.7h-3.7zM745.56 177.94h3.7v3.7h-3.7zM748.37 180.91h3.7v3.7h-3.7zM751.19 182.85h3.7v3.7h-3.7zM754 184.05h3.7v3.7h-3.7zM756.82 184.78h3.7v3.7h-3.7zM759.63 185.19h3.7v3.7h-3.7zM762.45 185.42h3.7v3.7h-3.7zM765.26 185.54h3.7v3.7h-3.7zM768.08 185.6h3.7v3.7h-3.7zM770.89 185.63h3.7v3.7h-3.7zM773.71 185.64h3.7v3.7h-3.7zM776.52 185.65h3.7v3.7h-3.7zM779.34 185.65h3.7v3.7h-3.7zM782.15 185.65h3.7v3.7h-3.7zM784.97 185.65h3.7v3.7h-3.7zM787.78 185.65h3.7v3.7h-3.7zM790.6 185.65h3.7v3.7h-3.7zM793.41 185.65h3.7v3.7h-3.7zM796.23 185.65h3.7v3.7h-3.7zM799.04 185.65h3.7v3.7h-3.7zM801.86 185.65h3.7v3.7h-3.7zM804.67 185.65h3.7v3.7h-3.7zM807.49 185.65h3.7v3.7h-3.7zM810.3 185.65h3.7v3.7h-3.7zM813.12 185.65h3.7v3.7h-3.7zM815.93 185.65h3.7v3.7h-3.7zM818.75 185.65h3.7v3.7h-3.7zM821.56 185.65h3.7v3.7h-3.7z" fill="#ff0000"/>
</g>
<text x="660" y="201.2" text-anchor="middle" class="tl">3</text><text x="800.5" y="201.2" text-anchor="middle" class="tl">3.5</text><text x="597.2" y="192.2" text-anchor="end" class="tl">0</text><text x="597.2" y="175.75" text-anchor="end" class="tl">0.01</text><text x="597.2" y="159.3" text-anchor="end" class="tl">0.02</text><text x="597.2" y="142.85" text-anchor="end" class="tl">0.03</text><text x="597.2" y="126.4" text-anchor="end" class="tl">0.04</text><text x="597.2" y="109.95" text-anchor="end" class="tl">0.05</text><text x="597.2" y="93.5" text-anchor="end" class="tl">0.06</text><text x="597.2" y="77.05" text-anchor="end" class="tl">0.07</text><text x="597.2" y="60.6" text-anchor="end" class="tl">0.08</text><text transform="translate(569.6 50.15) rotate(-90)" text-anchor="end" class="yt">Likelihood pdf</text><text x="826.2" y="219.3" text-anchor="end" class="sym" font-size="15.6">&#946;</text>
</g>
<g>
<path d="M158.5 375.45V238.1M271.5 375.45V238.1M50.15 350.45H275.35M50.15 325.45H275.35M50.15 300.45H275.35M50.15 275.45H275.35M50.15 250.45H275.35" stroke="#000" stroke-width="1" stroke-dasharray="1 1.7" fill="none"/>
<path d="M68.1 375.45v-3.6M90.7 375.45v-3.6M113.3 375.45v-3.6M135.9 375.45v-3.6M158.5 375.45v-7.2M181.1 375.45v-3.6M203.7 375.45v-3.6M226.3 375.45v-3.6M248.9 375.45v-3.6M271.5 375.45v-7.2M50.15 369.2h3.7M50.15 362.95h3.7M50.15 356.7h3.7M50.15 350.45h7.4M50.15 344.2h3.7M50.15 337.95h3.7M50.15 331.7h3.7M50.15 325.45h7.4M50.15 319.2h3.7M50.15 312.95h3.7M50.15 306.7h3.7M50.15 300.45h7.4M50.15 294.2h3.7M50.15 287.95h3.7M50.15 281.7h3.7M50.15 275.45h7.4M50.15 269.2h3.7M50.15 262.95h3.7M50.15 256.7h3.7M50.15 250.45h7.4M50.15 244.2h3.7" stroke="#000" stroke-width="1" fill="none"/><rect x="50.15" y="238.1" width="225.2" height="137.35" fill="none" stroke="#000" stroke-width="1"/>
<path d="M151.5 375.45V238.1" stroke="#2020ff" stroke-width="1" stroke-dasharray="3.2 2.1" fill="none"/>
<path d="M50.15 273H275.35M50.15 313.45H275.35M50.15 356H275.35" stroke="#2020ff" stroke-width="1" stroke-dasharray="3.2 2.1" fill="none"/>
<clipPath id="c10"><rect x="50.55" y="237.5" width="225.4" height="138.65"/></clipPath><g clip-path="url(#c10)">
<polyline points="51.47,375.45 54.29,375.45 57.1,375.45 59.92,375.45 62.73,375.45 65.55,375.45 68.36,375.45 71.18,375.45 73.99,375.45 76.81,375.45 79.62,375.45 82.44,375.45 85.25,375.45 88.07,375.44 90.88,375.44 93.7,375.43 96.51,375.42 99.33,375.39 102.14,375.34 104.96,375.27 107.77,375.14 110.59,374.95 113.4,374.65 116.22,374.2 119.03,373.55 121.85,372.63 124.66,371.35 127.48,369.63 130.29,367.38 133.11,364.5 135.92,360.92 138.74,356.58 141.55,351.45 144.37,345.54 147.18,338.92 150,331.69 152.81,324 155.63,316.02 158.44,307.96 161.26,300.03 164.07,292.43 166.89,285.34 169.7,278.88 172.52,273.16 175.33,268.21 178.15,264.06 180.96,260.65 183.78,257.93 186.59,255.81 189.41,254.21 192.22,253.02 195.04,252.17 197.85,251.58 200.67,251.17 203.48,250.9 206.3,250.72 209.11,250.61 211.93,250.54 214.74,250.5 217.56,250.48 220.37,250.47 223.19,250.46 226,250.45 228.82,250.45 231.63,250.45 234.45,250.45 237.26,250.45 240.08,250.45 242.89,250.45 245.71,250.45 248.52,250.45 251.34,250.45 254.15,250.45 256.97,250.45 259.78,250.45 262.6,250.45 265.41,250.45 268.23,250.45 271.04,250.45 273.86,250.45" fill="none" stroke="#ff00ff" stroke-width="0.95" stroke-linejoin="round"/><path d="M50.42 374.4h2.1v2.1h-2.1zM53.24 374.4h2.1v2.1h-2.1zM56.05 374.4h2.1v2.1h-2.1zM58.87 374.4h2.1v2.1h-2.1zM61.68 374.4h2.1v2.1h-2.1zM64.5 374.4h2.1v2.1h-2.1zM67.31 374.4h2.1v2.1h-2.1zM70.13 374.4h2.1v2.1h-2.1zM72.94 374.4h2.1v2.1h-2.1zM75.76 374.4h2.1v2.1h-2.1zM78.57 374.4h2.1v2.1h-2.1zM81.39 374.4h2.1v2.1h-2.1zM84.2 374.4h2.1v2.1h-2.1zM87.02 374.39h2.1v2.1h-2.1zM89.83 374.39h2.1v2.1h-2.1zM92.65 374.38h2.1v2.1h-2.1zM95.46 374.37h2.1v2.1h-2.1zM98.28 374.34h2.1v2.1h-2.1zM101.09 374.29h2.1v2.1h-2.1zM103.91 374.22h2.1v2.1h-2.1zM106.72 374.09h2.1v2.1h-2.1zM109.54 373.9h2.1v2.1h-2.1zM112.35 373.6h2.1v2.1h-2.1zM115.17 373.15h2.1v2.1h-2.1zM117.98 372.5h2.1v2.1h-2.1zM120.8 371.58h2.1v2.1h-2.1zM123.61 370.3h2.1v2.1h-2.1zM126.43 368.58h2.1v2.1h-2.1zM129.24 366.33h2.1v2.1h-2.1zM132.06 363.45h2.1v2.1h-2.1zM134.87 359.87h2.1v2.1h-2.1zM137.69 355.53h2.1v2.1h-2.1zM140.5 350.4h2.1v2.1h-2.1zM143.32 344.49h2.1v2.1h-2.1zM146.13 337.87h2.1v2.1h-2.1zM148.95 330.64h2.1v2.1h-2.1zM151.76 322.95h2.1v2.1h-2.1zM154.58 314.97h2.1v2.1h-2.1zM157.39 306.91h2.1v2.1h-2.1zM160.21 298.98h2.1v2.1h-2.1zM163.02 291.38h2.1v2.1h-2.1zM165.84 284.29h2.1v2.1h-2.1zM168.65 277.83h2.1v2.1h-2.1zM171.47 272.11h2.1v2.1h-2.1zM174.28 267.16h2.1v2.1h-2.1zM177.1 263.01h2.1v2.1h-2.1zM179.91 259.6h2.1v2.1h-2.1zM182.73 256.88h2.1v2.1h-2.1zM185.54 254.76h2.1v2.1h-2.1zM188.36 253.16h2.1v2.1h-2.1zM191.17 251.97h2.1v2.1h-2.1zM193.99 251.12h2.1v2.1h-2.1zM196.8 250.53h2.1v2.1h-2.1zM199.62 250.12h2.1v2.1h-2.1zM202.43 249.85h2.1v2.1h-2.1zM205.25 249.67h2.1v2.1h-2.1zM208.06 249.56h2.1v2.1h-2.1zM210.88 249.49h2.1v2.1h-2.1zM213.69 249.45h2.1v2.1h-2.1zM216.51 249.43h2.1v2.1h-2.1zM219.32 249.42h2.1v2.1h-2.1zM222.14 249.41h2.1v2.1h-2.1zM224.95 249.4h2.1v2.1h-2.1zM227.77 249.4h2.1v2.1h-2.1zM230.58 249.4h2.1v2.1h-2.1zM233.4 249.4h2.1v2.1h-2.1zM236.21 249.4h2.1v2.1h-2.1zM239.03 249.4h2.1v2.1h-2.1zM241.84 249.4h2.1v2.1h-2.1zM244.66 249.4h2.1v2.1h-2.1zM247.47 249.4h2.1v2.1h-2.1zM250.29 249.4h2.1v2.1h-2.1zM253.1 249.4h2.1v2.1h-2.1zM255.92 249.4h2.1v2.1h-2.1zM258.73 249.4h2.1v2.1h-2.1zM261.55 249.4h2.1v2.1h-2.1zM264.36 249.4h2.1v2.1h-2.1zM267.18 249.4h2.1v2.1h-2.1zM269.99 249.4h2.1v2.1h-2.1zM272.81 249.4h2.1v2.1h-2.1z" fill="#ff00ff"/>
<polyline points="51.47,375.45 54.29,375.45 57.1,375.45 59.92,375.45 62.73,375.45 65.55,375.45 68.36,375.45 71.18,375.45 73.99,375.45 76.81,375.45 79.62,375.45 82.44,375.45 85.25,375.44 88.07,375.44 90.88,375.43 93.7,375.41 96.51,375.38 99.33,375.33 102.14,375.25 104.96,375.12 107.77,374.91 110.59,374.6 113.4,374.13 116.22,373.44 119.03,372.47 121.85,371.14 124.66,369.36 127.48,367.03 130.29,364.06 133.11,360.37 135.92,355.92 138.74,350.69 141.55,344.68 144.37,337.97 147.18,330.66 150,322.92 152.81,314.92 155.63,306.87 158.44,298.97 161.26,291.43 164.07,284.41 166.89,278.05 169.7,272.43 172.52,267.6 175.33,263.55 178.15,260.24 180.96,257.61 183.78,255.56 186.59,254.02 189.41,252.89 192.22,252.08 195.04,251.51 197.85,251.13 200.67,250.87 203.48,250.7 206.3,250.6 209.11,250.54 211.93,250.5 214.74,250.48 217.56,250.46 220.37,250.46 223.19,250.45 226,250.45 228.82,250.45 231.63,250.45 234.45,250.45 237.26,250.45 240.08,250.45 242.89,250.45 245.71,250.45 248.52,250.45 251.34,250.45 254.15,250.45 256.97,250.45 259.78,250.45 262.6,250.45 265.41,250.45 268.23,250.45 271.04,250.45 273.86,250.45" fill="none" stroke="#00ff00" stroke-width="0.95" stroke-linejoin="round"/><path d="M49.62 373.6h3.7v3.7h-3.7zM52.44 373.6h3.7v3.7h-3.7zM55.25 373.6h3.7v3.7h-3.7zM58.07 373.6h3.7v3.7h-3.7zM60.88 373.6h3.7v3.7h-3.7zM63.7 373.6h3.7v3.7h-3.7zM66.51 373.6h3.7v3.7h-3.7zM69.33 373.6h3.7v3.7h-3.7zM72.14 373.6h3.7v3.7h-3.7zM74.96 373.6h3.7v3.7h-3.7zM77.77 373.6h3.7v3.7h-3.7zM80.59 373.6h3.7v3.7h-3.7zM83.4 373.59h3.7v3.7h-3.7zM86.22 373.59h3.7v3.7h-3.7zM89.03 373.58h3.7v3.7h-3.7zM91.85 373.56h3.7v3.7h-3.7zM94.66 373.53h3.7v3.7h-3.7zM97.48 373.48h3.7v3.7h-3.7zM100.29 373.4h3.7v3.7h-3.7zM103.11 373.27h3.7v3.7h-3.7zM105.92 373.06h3.7v3.7h-3.7zM108.74 372.75h3.7v3.7h-3.7zM111.55 372.28h3.7v3.7h-3.7zM114.37 371.59h3.7v3.7h-3.7zM117.18 370.62h3.7v3.7h-3.7zM120 369.29h3.7v3.7h-3.7zM122.81 367.51h3.7v3.7h-3.7zM125.63 365.18h3.7v3.7h-3.7zM128.44 362.21h3.7v3.7h-3.7zM131.26 358.52h3.7v3.7h-3.7zM134.07 354.07h3.7v3.7h-3.7zM136.89 348.84h3.7v3.7h-3.7zM139.7 342.83h3.7v3.7h-3.7zM142.52 336.12h3.7v3.7h-3.7zM145.33 328.81h3.7v3.7h-3.7zM148.15 321.07h3.7v3.7h-3.7zM150.96 313.07h3.7v3.7h-3.7zM153.78 305.02h3.7v3.7h-3.7zM156.59 297.12h3.7v3.7h-3.7zM159.41 289.58h3.7v3.7h-3.7zM162.22 282.56h3.7v3.7h-3.7zM165.04 276.2h3.7v3.7h-3.7zM167.85 270.58h3.7v3.7h-3.7zM170.67 265.75h3.7v3.7h-3.7zM173.48 261.7h3.7v3.7h-3.7zM176.3 258.39h3.7v3.7h-3.7zM179.11 255.76h3.7v3.7h-3.7zM181.93 253.71h3.7v3.7h-3.7zM184.74 252.17h3.7v3.7h-3.7zM187.56 251.04h3.7v3.7h-3.7zM190.37 250.23h3.7v3.7h-3.7zM193.19 249.66h3.7v3.7h-3.7zM196 249.28h3.7v3.7h-3.7zM198.82 249.02h3.7v3.7h-3.7zM201.63 248.85h3.7v3.7h-3.7zM204.45 248.75h3.7v3.7h-3.7zM207.26 248.69h3.7v3.7h-3.7zM210.08 248.65h3.7v3.7h-3.7zM212.89 248.63h3.7v3.7h-3.7zM215.71 248.61h3.7v3.7h-3.7zM218.52 248.61h3.7v3.7h-3.7zM221.34 248.6h3.7v3.7h-3.7zM224.15 248.6h3.7v3.7h-3.7zM226.97 248.6h3.7v3.7h-3.7zM229.78 248.6h3.7v3.7h-3.7zM232.6 248.6h3.7v3.7h-3.7zM235.41 248.6h3.7v3.7h-3.7zM238.23 248.6h3.7v3.7h-3.7zM241.04 248.6h3.7v3.7h-3.7zM243.86 248.6h3.7v3.7h-3.7zM246.67 248.6h3.7v3.7h-3.7zM249.49 248.6h3.7v3.7h-3.7zM252.3 248.6h3.7v3.7h-3.7zM255.12 248.6h3.7v3.7h-3.7zM257.93 248.6h3.7v3.7h-3.7zM260.75 248.6h3.7v3.7h-3.7zM263.56 248.6h3.7v3.7h-3.7zM266.38 248.6h3.7v3.7h-3.7zM269.19 248.6h3.7v3.7h-3.7zM272.01 248.6h3.7v3.7h-3.7z" fill="#00ff00"/>
<polyline points="52.63,375.45 55.44,375.45 58.26,375.45 61.07,375.45 63.89,375.45 66.7,375.45 69.52,375.45 72.33,375.45 75.15,375.44 77.96,375.44 80.78,375.43 83.59,375.41 86.41,375.38 89.22,375.32 92.04,375.24 94.85,375.1 97.67,374.89 100.48,374.56 103.3,374.09 106.11,373.4 108.93,372.44 111.74,371.12 114.56,369.36 117.37,367.08 120.19,364.18 123,360.59 125.82,356.27 128.63,351.18 131.45,345.34 134.26,338.82 137.08,331.71 139.89,324.15 142.71,316.31 145.52,308.39 148.34,300.58 151.15,293.08 153.97,286.04 156.78,279.62 159.6,273.9 162.41,268.93 165.23,264.71 168.04,261.24 170.86,258.43 173.67,256.24 176.49,254.55 179.3,253.29 182.12,252.38 184.93,251.73 187.75,251.28 190.56,250.97 193.38,250.77 196.19,250.65 199.01,250.57 201.82,250.52 204.64,250.49 207.45,250.47 210.27,250.46 213.08,250.46 215.9,250.45 218.71,250.45 221.53,250.45 224.34,250.45 227.16,250.45 229.97,250.45 232.79,250.45 235.6,250.45 238.42,250.45 241.23,250.45 244.05,250.45 246.86,250.45 249.68,250.45 252.49,250.45 255.31,250.45 258.12,250.45 260.94,250.45 263.75,250.45 266.57,250.45 269.38,250.45 272.2,250.45 275.01,250.45" fill="none" stroke="#ff0000" stroke-width="0.95" stroke-linejoin="round"/><path d="M50.78 373.6h3.7v3.7h-3.7zM53.59 373.6h3.7v3.7h-3.7zM56.41 373.6h3.7v3.7h-3.7zM59.22 373.6h3.7v3.7h-3.7zM62.04 373.6h3.7v3.7h-3.7zM64.85 373.6h3.7v3.7h-3.7zM67.67 373.6h3.7v3.7h-3.7zM70.48 373.6h3.7v3.7h-3.7zM73.3 373.59h3.7v3.7h-3.7zM76.11 373.59h3.7v3.7h-3.7zM78.93 373.58h3.7v3.7h-3.7zM81.74 373.56h3.7v3.7h-3.7zM84.56 373.53h3.7v3.7h-3.7zM87.37 373.47h3.7v3.7h-3.7zM90.19 373.39h3.7v3.7h-3.7zM93 373.25h3.7v3.7h-3.7zM95.82 373.04h3.7v3.7h-3.7zM98.63 372.71h3.7v3.7h-3.7zM101.45 372.24h3.7v3.7h-3.7zM104.26 371.55h3.7v3.7h-3.7zM107.08 370.59h3.7v3.7h-3.7zM109.89 369.27h3.7v3.7h-3.7zM112.71 367.51h3.7v3.7h-3.7zM115.52 365.23h3.7v3.7h-3.7zM118.34 362.33h3.7v3.7h-3.7zM121.15 358.74h3.7v3.7h-3.7zM123.97 354.42h3.7v3.7h-3.7zM126.78 349.33h3.7v3.7h-3.7zM129.6 343.49h3.7v3.7h-3.7zM132.41 336.97h3.7v3.7h-3.7zM135.23 329.86h3.7v3.7h-3.7zM138.04 322.3h3.7v3.7h-3.7zM140.86 314.46h3.7v3.7h-3.7zM143.67 306.54h3.7v3.7h-3.7zM146.49 298.73h3.7v3.7h-3.7zM149.3 291.23h3.7v3.7h-3.7zM152.12 284.19h3.7v3.7h-3.7zM154.93 277.77h3.7v3.7h-3.7zM157.75 272.05h3.7v3.7h-3.7zM160.56 267.08h3.7v3.7h-3.7zM163.38 262.86h3.7v3.7h-3.7zM166.19 259.39h3.7v3.7h-3.7zM169.01 256.58h3.7v3.7h-3.7zM171.82 254.39h3.7v3.7h-3.7zM174.64 252.7h3.7v3.7h-3.7zM177.45 251.44h3.7v3.7h-3.7zM180.27 250.53h3.7v3.7h-3.7zM183.08 249.88h3.7v3.7h-3.7zM185.9 249.43h3.7v3.7h-3.7zM188.71 249.12h3.7v3.7h-3.7zM191.53 248.92h3.7v3.7h-3.7zM194.34 248.8h3.7v3.7h-3.7zM197.16 248.72h3.7v3.7h-3.7zM199.97 248.67h3.7v3.7h-3.7zM202.79 248.64h3.7v3.7h-3.7zM205.6 248.62h3.7v3.7h-3.7zM208.42 248.61h3.7v3.7h-3.7zM211.23 248.61h3.7v3.7h-3.7zM214.05 248.6h3.7v3.7h-3.7zM216.86 248.6h3.7v3.7h-3.7zM219.68 248.6h3.7v3.7h-3.7zM222.49 248.6h3.7v3.7h-3.7zM225.31 248.6h3.7v3.7h-3.7zM228.12 248.6h3.7v3.7h-3.7zM230.94 248.6h3.7v3.7h-3.7zM233.75 248.6h3.7v3.7h-3.7zM236.57 248.6h3.7v3.7h-3.7zM239.38 248.6h3.7v3.7h-3.7zM242.2 248.6h3.7v3.7h-3.7zM245.01 248.6h3.7v3.7h-3.7zM247.83 248.6h3.7v3.7h-3.7zM250.64 248.6h3.7v3.7h-3.7zM253.46 248.6h3.7v3.7h-3.7zM256.27 248.6h3.7v3.7h-3.7zM259.09 248.6h3.7v3.7h-3.7zM261.9 248.6h3.7v3.7h-3.7zM264.72 248.6h3.7v3.7h-3.7zM267.53 248.6h3.7v3.7h-3.7zM270.35 248.6h3.7v3.7h-3.7zM273.16 248.6h3.7v3.7h-3.7z" fill="#ff0000"/>
<polyline points="52.63,375.45 55.44,375.45 58.26,375.45 61.07,375.45 63.89,375.45 66.7,375.45 69.52,375.45 72.33,375.45 75.15,375.45 77.96,375.44 80.78,375.44 83.59,375.43 86.41,375.42 89.22,375.39 92.04,375.35 94.85,375.28 97.67,375.17 100.48,374.99 103.3,374.73 106.11,374.33 108.93,373.77 111.74,372.96 114.56,371.86 117.37,370.37 120.19,368.42 123,365.91 125.82,362.78 128.63,358.97 131.45,354.42 134.26,349.14 137.08,343.16 139.89,336.53 142.71,329.38 145.52,321.84 148.34,314.09 151.15,306.31 153.97,298.7 156.78,291.41 159.6,284.62 162.41,278.44 165.23,272.95 168.04,268.19 170.86,264.16 173.67,260.84 176.49,258.16 179.3,256.05 182.12,254.44 184.93,253.23 187.75,252.34 190.56,251.71 193.38,251.27 196.19,250.97 199.01,250.78 201.82,250.65 204.64,250.57 207.45,250.52 210.27,250.49 213.08,250.47 215.9,250.46 218.71,250.46 221.53,250.45 224.34,250.45 227.16,250.45 229.97,250.45 232.79,250.45 235.6,250.45 238.42,250.45 241.23,250.45 244.05,250.45 246.86,250.45 249.68,250.45 252.49,250.45 255.31,250.45 258.12,250.45 260.94,250.45 263.75,250.45 266.57,250.45 269.38,250.45 272.2,250.45 275.01,250.45" fill="none" stroke="#000000" stroke-width="0.95" stroke-linejoin="round"/><path d="M50.78 373.6h3.7v3.7h-3.7zM53.59 373.6h3.7v3.7h-3.7zM56.41 373.6h3.7v3.7h-3.7zM59.22 373.6h3.7v3.7h-3.7zM62.04 373.6h3.7v3.7h-3.7zM64.85 373.6h3.7v3.7h-3.7zM67.67 373.6h3.7v3.7h-3.7zM70.48 373.6h3.7v3.7h-3.7zM73.3 373.6h3.7v3.7h-3.7zM76.11 373.59h3.7v3.7h-3.7zM78.93 373.59h3.7v3.7h-3.7zM81.74 373.58h3.7v3.7h-3.7zM84.56 373.57h3.7v3.7h-3.7zM87.37 373.54h3.7v3.7h-3.7zM90.19 373.5h3.7v3.7h-3.7zM93 373.43h3.7v3.7h-3.7zM95.82 373.32h3.7v3.7h-3.7zM98.63 373.14h3.7v3.7h-3.7zM101.45 372.88h3.7v3.7h-3.7zM104.26 372.48h3.7v3.7h-3.7zM107.08 371.92h3.7v3.7h-3.7zM109.89 371.11h3.7v3.7h-3.7zM112.71 370.01h3.7v3.7h-3.7zM115.52 368.52h3.7v3.7h-3.7zM118.34 366.57h3.7v3.7h-3.7zM121.15 364.06h3.7v3.7h-3.7zM123.97 360.93h3.7v3.7h-3.7zM126.78 357.12h3.7v3.7h-3.7zM129.6 352.57h3.7v3.7h-3.7zM132.41 347.29h3.7v3.7h-3.7zM135.23 341.31h3.7v3.7h-3.7zM138.04 334.68h3.7v3.7h-3.7zM140.86 327.53h3.7v3.7h-3.7zM143.67 319.99h3.7v3.7h-3.7zM146.49 312.24h3.7v3.7h-3.7zM149.3 304.46h3.7v3.7h-3.7zM152.12 296.85h3.7v3.7h-3.7zM154.93 289.56h3.7v3.7h-3.7zM157.75 282.77h3.7v3.7h-3.7zM160.56 276.59h3.7v3.7h-3.7zM163.38 271.1h3.7v3.7h-3.7zM166.19 266.34h3.7v3.7h-3.7zM169.01 262.31h3.7v3.7h-3.7zM171.82 258.99h3.7v3.7h-3.7zM174.64 256.31h3.7v3.7h-3.7zM177.45 254.2h3.7v3.7h-3.7zM180.27 252.59h3.7v3.7h-3.7zM183.08 251.38h3.7v3.7h-3.7zM185.9 250.49h3.7v3.7h-3.7zM188.71 249.86h3.7v3.7h-3.7zM191.53 249.42h3.7v3.7h-3.7zM194.34 249.12h3.7v3.7h-3.7zM197.16 248.93h3.7v3.7h-3.7zM199.97 248.8h3.7v3.7h-3.7zM202.79 248.72h3.7v3.7h-3.7zM205.6 248.67h3.7v3.7h-3.7zM208.42 248.64h3.7v3.7h-3.7zM211.23 248.62h3.7v3.7h-3.7zM214.05 248.61h3.7v3.7h-3.7zM216.86 248.61h3.7v3.7h-3.7zM219.68 248.6h3.7v3.7h-3.7zM222.49 248.6h3.7v3.7h-3.7zM225.31 248.6h3.7v3.7h-3.7zM228.12 248.6h3.7v3.7h-3.7zM230.94 248.6h3.7v3.7h-3.7zM233.75 248.6h3.7v3.7h-3.7zM236.57 248.6h3.7v3.7h-3.7zM239.38 248.6h3.7v3.7h-3.7zM242.2 248.6h3.7v3.7h-3.7zM245.01 248.6h3.7v3.7h-3.7zM247.83 248.6h3.7v3.7h-3.7zM250.64 248.6h3.7v3.7h-3.7zM253.46 248.6h3.7v3.7h-3.7zM256.27 248.6h3.7v3.7h-3.7zM259.09 248.6h3.7v3.7h-3.7zM261.9 248.6h3.7v3.7h-3.7zM264.72 248.6h3.7v3.7h-3.7zM267.53 248.6h3.7v3.7h-3.7zM270.35 248.6h3.7v3.7h-3.7zM273.16 248.6h3.7v3.7h-3.7z" fill="#000000"/>
</g>
<text x="158.5" y="389.15" text-anchor="middle" class="tl">0.3</text><text x="271.5" y="389.15" text-anchor="middle" class="tl">0.4</text><text x="46.55" y="380.15" text-anchor="end" class="tl">0</text><text x="46.55" y="355.15" text-anchor="end" class="tl">0.2</text><text x="46.55" y="330.15" text-anchor="end" class="tl">0.4</text><text x="46.55" y="305.15" text-anchor="end" class="tl">0.6</text><text x="46.55" y="280.15" text-anchor="end" class="tl">0.8</text><text x="46.55" y="255.15" text-anchor="end" class="tl">1</text><text transform="translate(18.95 238.3) rotate(-90)" text-anchor="end" class="yt">Cumulative proba.</text><text x="266.05" y="407.05" text-anchor="end" class="sym" font-size="15.5">&#937;</text><text x="275.25" y="411.55" text-anchor="end" class="sub">m</text>
</g>
<g>
<path d="M334.9 375.45V238.1M475.6 375.45V238.1M325.45 350.45H550.65M325.45 325.45H550.65M325.45 300.45H550.65M325.45 275.45H550.65M325.45 250.45H550.65" stroke="#000" stroke-width="1" stroke-dasharray="1 1.7" fill="none"/>
<path d="M334.9 375.45v-7.2M363.04 375.45v-3.6M391.18 375.45v-3.6M419.32 375.45v-3.6M447.46 375.45v-3.6M475.6 375.45v-7.2M503.74 375.45v-3.6M531.88 375.45v-3.6M325.45 369.2h3.7M325.45 362.95h3.7M325.45 356.7h3.7M325.45 350.45h7.4M325.45 344.2h3.7M325.45 337.95h3.7M325.45 331.7h3.7M325.45 325.45h7.4M325.45 319.2h3.7M325.45 312.95h3.7M325.45 306.7h3.7M325.45 300.45h7.4M325.45 294.2h3.7M325.45 287.95h3.7M325.45 281.7h3.7M325.45 275.45h7.4M325.45 269.2h3.7M325.45 262.95h3.7M325.45 256.7h3.7M325.45 250.45h7.4M325.45 244.2h3.7" stroke="#000" stroke-width="1" fill="none"/><rect x="325.45" y="238.1" width="225.2" height="137.35" fill="none" stroke="#000" stroke-width="1"/>
<path d="M449.9 375.45V238.1" stroke="#2020ff" stroke-width="1" stroke-dasharray="3.2 2.1" fill="none"/>
<path d="M325.45 273H550.65M325.45 313.45H550.65M325.45 356H550.65" stroke="#2020ff" stroke-width="1" stroke-dasharray="3.2 2.1" fill="none"/>
<clipPath id="c11"><rect x="325.85" y="237.5" width="225.4" height="138.65"/></clipPath><g clip-path="url(#c11)">
<polyline points="326.52,375.45 329.33,375.45 332.15,375.45 334.96,375.45 337.78,375.45 340.59,375.45 343.41,375.45 346.22,375.45 349.04,375.45 351.85,375.45 354.67,375.45 357.48,375.45 360.3,375.45 363.11,375.45 365.93,375.45 368.74,375.44 371.56,375.43 374.37,375.42 377.19,375.39 380,375.34 382.82,375.24 385.63,375.08 388.45,374.81 391.26,374.38 394.08,373.72 396.89,372.74 399.71,371.31 402.52,369.32 405.34,366.63 408.15,363.11 410.97,358.65 413.78,353.2 416.6,346.75 419.41,339.38 422.23,331.21 425.04,322.46 427.86,313.4 430.67,304.33 433.49,295.54 436.3,287.31 439.12,279.84 441.93,273.3 444.75,267.75 447.56,263.2 450.38,259.59 453.19,256.81 456.01,254.76 458.82,253.28 461.64,252.26 464.45,251.57 467.27,251.12 470.08,250.84 472.9,250.67 475.71,250.57 478.53,250.51 481.34,250.48 484.16,250.47 486.97,250.46 489.79,250.45 492.6,250.45 495.42,250.45 498.23,250.45 501.05,250.45 503.86,250.45 506.68,250.45 509.49,250.45 512.31,250.45 515.12,250.45 517.94,250.45 520.75,250.45 523.57,250.45 526.38,250.45 529.2,250.45 532.01,250.45 534.83,250.45 537.64,250.45 540.46,250.45 543.27,250.45 546.09,250.45 548.9,250.45" fill="none" stroke="#ff00ff" stroke-width="0.95" stroke-linejoin="round"/><path d="M325.47 374.4h2.1v2.1h-2.1zM328.28 374.4h2.1v2.1h-2.1zM331.1 374.4h2.1v2.1h-2.1zM333.91 374.4h2.1v2.1h-2.1zM336.73 374.4h2.1v2.1h-2.1zM339.54 374.4h2.1v2.1h-2.1zM342.36 374.4h2.1v2.1h-2.1zM345.17 374.4h2.1v2.1h-2.1zM347.99 374.4h2.1v2.1h-2.1zM350.8 374.4h2.1v2.1h-2.1zM353.62 374.4h2.1v2.1h-2.1zM356.43 374.4h2.1v2.1h-2.1zM359.25 374.4h2.1v2.1h-2.1zM362.06 374.4h2.1v2.1h-2.1zM364.88 374.4h2.1v2.1h-2.1zM367.69 374.39h2.1v2.1h-2.1zM370.51 374.38h2.1v2.1h-2.1zM373.32 374.37h2.1v2.1h-2.1zM376.14 374.34h2.1v2.1h-2.1zM378.95 374.29h2.1v2.1h-2.1zM381.77 374.19h2.1v2.1h-2.1zM384.58 374.03h2.1v2.1h-2.1zM387.4 373.76h2.1v2.1h-2.1zM390.21 373.33h2.1v2.1h-2.1zM393.03 372.67h2.1v2.1h-2.1zM395.84 371.69h2.1v2.1h-2.1zM398.66 370.26h2.1v2.1h-2.1zM401.47 368.27h2.1v2.1h-2.1zM404.29 365.58h2.1v2.1h-2.1zM407.1 362.06h2.1v2.1h-2.1zM409.92 357.6h2.1v2.1h-2.1zM412.73 352.15h2.1v2.1h-2.1zM415.55 345.7h2.1v2.1h-2.1zM418.36 338.33h2.1v2.1h-2.1zM421.18 330.16h2.1v2.1h-2.1zM423.99 321.41h2.1v2.1h-2.1zM426.81 312.35h2.1v2.1h-2.1zM429.62 303.28h2.1v2.1h-2.1zM432.44 294.49h2.1v2.1h-2.1zM435.25 286.26h2.1v2.1h-2.1zM438.07 278.79h2.1v2.1h-2.1zM440.88 272.25h2.1v2.1h-2.1zM443.7 266.7h2.1v2.1h-2.1zM446.51 262.15h2.1v2.1h-2.1zM449.33 258.54h2.1v2.1h-2.1zM452.14 255.76h2.1v2.1h-2.1zM454.96 253.71h2.1v2.1h-2.1zM457.77 252.23h2.1v2.1h-2.1zM460.59 251.21h2.1v2.1h-2.1zM463.4 250.52h2.1v2.1h-2.1zM466.22 250.07h2.1v2.1h-2.1zM469.03 249.79h2.1v2.1h-2.1zM471.85 249.62h2.1v2.1h-2.1zM474.66 249.52h2.1v2.1h-2.1zM477.48 249.46h2.1v2.1h-2.1zM480.29 249.43h2.1v2.1h-2.1zM483.11 249.42h2.1v2.1h-2.1zM485.92 249.41h2.1v2.1h-2.1zM488.74 249.4h2.1v2.1h-2.1zM491.55 249.4h2.1v2.1h-2.1zM494.37 249.4h2.1v2.1h-2.1zM497.18 249.4h2.1v2.1h-2.1zM500 249.4h2.1v2.1h-2.1zM502.81 249.4h2.1v2.1h-2.1zM505.63 249.4h2.1v2.1h-2.1zM508.44 249.4h2.1v2.1h-2.1zM511.26 249.4h2.1v2.1h-2.1zM514.07 249.4h2.1v2.1h-2.1zM516.89 249.4h2.1v2.1h-2.1zM519.7 249.4h2.1v2.1h-2.1zM522.52 249.4h2.1v2.1h-2.1zM525.33 249.4h2.1v2.1h-2.1zM528.15 249.4h2.1v2.1h-2.1zM530.96 249.4h2.1v2.1h-2.1zM533.78 249.4h2.1v2.1h-2.1zM536.59 249.4h2.1v2.1h-2.1zM539.41 249.4h2.1v2.1h-2.1zM542.22 249.4h2.1v2.1h-2.1zM545.04 249.4h2.1v2.1h-2.1zM547.85 249.4h2.1v2.1h-2.1z" fill="#ff00ff"/>
<polyline points="326.52,375.45 329.33,375.45 332.15,375.45 334.96,375.45 337.78,375.45 340.59,375.45 343.41,375.45 346.22,375.45 349.04,375.45 351.85,375.45 354.67,375.45 357.48,375.45 360.3,375.45 363.11,375.45 365.93,375.45 368.74,375.45 371.56,375.45 374.37,375.45 377.19,375.44 380,375.43 382.82,375.42 385.63,375.38 388.45,375.32 391.26,375.21 394.08,375.02 396.89,374.7 399.71,374.2 402.52,373.42 405.34,372.26 408.15,370.58 410.97,368.25 413.78,365.12 416.6,361.07 419.41,355.99 422.23,349.85 425.04,342.69 427.86,334.63 430.67,325.85 433.49,316.64 436.3,307.29 439.12,298.15 441.93,289.5 444.75,281.61 447.56,274.66 450.38,268.75 453.19,263.89 456.01,260.04 458.82,257.09 461.64,254.92 464.45,253.36 467.27,252.29 470.08,251.57 472.9,251.12 475.71,250.83 478.53,250.66 481.34,250.56 484.16,250.51 486.97,250.48 489.79,250.46 492.6,250.46 495.42,250.45 498.23,250.45 501.05,250.45 503.86,250.45 506.68,250.45 509.49,250.45 512.31,250.45 515.12,250.45 517.94,250.45 520.75,250.45 523.57,250.45 526.38,250.45 529.2,250.45 532.01,250.45 534.83,250.45 537.64,250.45 540.46,250.45 543.27,250.45 546.09,250.45 548.9,250.45" fill="none" stroke="#00ff00" stroke-width="0.95" stroke-linejoin="round"/><path d="M324.67 373.6h3.7v3.7h-3.7zM327.48 373.6h3.7v3.7h-3.7zM330.3 373.6h3.7v3.7h-3.7zM333.11 373.6h3.7v3.7h-3.7zM335.93 373.6h3.7v3.7h-3.7zM338.74 373.6h3.7v3.7h-3.7zM341.56 373.6h3.7v3.7h-3.7zM344.37 373.6h3.7v3.7h-3.7zM347.19 373.6h3.7v3.7h-3.7zM350 373.6h3.7v3.7h-3.7zM352.82 373.6h3.7v3.7h-3.7zM355.63 373.6h3.7v3.7h-3.7zM358.45 373.6h3.7v3.7h-3.7zM361.26 373.6h3.7v3.7h-3.7zM364.08 373.6h3.7v3.7h-3.7zM366.89 373.6h3.7v3.7h-3.7zM369.71 373.6h3.7v3.7h-3.7zM372.52 373.6h3.7v3.7h-3.7zM375.34 373.59h3.7v3.7h-3.7zM378.15 373.58h3.7v3.7h-3.7zM380.97 373.57h3.7v3.7h-3.7zM383.78 373.53h3.7v3.7h-3.7zM386.6 373.47h3.7v3.7h-3.7zM389.41 373.36h3.7v3.7h-3.7zM392.23 373.17h3.7v3.7h-3.7zM395.04 372.85h3.7v3.7h-3.7zM397.86 372.35h3.7v3.7h-3.7zM400.67 371.57h3.7v3.7h-3.7zM403.49 370.41h3.7v3.7h-3.7zM406.3 368.73h3.7v3.7h-3.7zM409.12 366.4h3.7v3.7h-3.7zM411.93 363.27h3.7v3.7h-3.7zM414.75 359.22h3.7v3.7h-3.7zM417.56 354.14h3.7v3.7h-3.7zM420.38 348h3.7v3.7h-3.7zM423.19 340.84h3.7v3.7h-3.7zM426.01 332.78h3.7v3.7h-3.7zM428.82 324h3.7v3.7h-3.7zM431.64 314.79h3.7v3.7h-3.7zM434.45 305.44h3.7v3.7h-3.7zM437.27 296.3h3.7v3.7h-3.7zM440.08 287.65h3.7v3.7h-3.7zM442.9 279.76h3.7v3.7h-3.7zM445.71 272.81h3.7v3.7h-3.7zM448.53 266.9h3.7v3.7h-3.7zM451.34 262.04h3.7v3.7h-3.7zM454.16 258.19h3.7v3.7h-3.7zM456.97 255.24h3.7v3.7h-3.7zM459.79 253.07h3.7v3.7h-3.7zM462.6 251.51h3.7v3.7h-3.7zM465.42 250.44h3.7v3.7h-3.7zM468.23 249.72h3.7v3.7h-3.7zM471.05 249.27h3.7v3.7h-3.7zM473.86 248.98h3.7v3.7h-3.7zM476.68 248.81h3.7v3.7h-3.7zM479.49 248.71h3.7v3.7h-3.7zM482.31 248.66h3.7v3.7h-3.7zM485.12 248.63h3.7v3.7h-3.7zM487.94 248.61h3.7v3.7h-3.7zM490.75 248.61h3.7v3.7h-3.7zM493.57 248.6h3.7v3.7h-3.7zM496.38 248.6h3.7v3.7h-3.7zM499.2 248.6h3.7v3.7h-3.7zM502.01 248.6h3.7v3.7h-3.7zM504.83 248.6h3.7v3.7h-3.7zM507.64 248.6h3.7v3.7h-3.7zM510.46 248.6h3.7v3.7h-3.7zM513.27 248.6h3.7v3.7h-3.7zM516.09 248.6h3.7v3.7h-3.7zM518.9 248.6h3.7v3.7h-3.7zM521.72 248.6h3.7v3.7h-3.7zM524.53 248.6h3.7v3.7h-3.7zM527.35 248.6h3.7v3.7h-3.7zM530.16 248.6h3.7v3.7h-3.7zM532.98 248.6h3.7v3.7h-3.7zM535.79 248.6h3.7v3.7h-3.7zM538.61 248.6h3.7v3.7h-3.7zM541.42 248.6h3.7v3.7h-3.7zM544.24 248.6h3.7v3.7h-3.7zM547.05 248.6h3.7v3.7h-3.7z" fill="#00ff00"/>
<polyline points="327.98,375.45 330.8,375.45 333.61,375.45 336.43,375.45 339.24,375.45 342.06,375.45 344.87,375.45 347.69,375.45 350.5,375.45 353.32,375.45 356.13,375.45 358.95,375.45 361.76,375.45 364.58,375.45 367.39,375.45 370.21,375.45 373.02,375.44 375.84,375.43 378.65,375.42 381.47,375.39 384.28,375.33 387.1,375.23 389.91,375.07 392.73,374.8 395.54,374.37 398.36,373.72 401.17,372.74 403.99,371.34 406.8,369.39 409.62,366.76 412.43,363.33 415.25,359 418.06,353.69 420.88,347.41 423.69,340.22 426.51,332.23 429.32,323.66 432.14,314.74 434.95,305.77 437.77,297.03 440.58,288.78 443.4,281.25 446.21,274.6 449.03,268.9 451.84,264.19 454.66,260.4 457.47,257.47 460.29,255.26 463.1,253.66 465.92,252.53 468.73,251.76 471.55,251.25 474.36,250.92 477.18,250.72 479.99,250.6 482.81,250.53 485.62,250.49 488.44,250.47 491.25,250.46 494.07,250.46 496.88,250.45 499.7,250.45 502.51,250.45 505.33,250.45 508.14,250.45 510.96,250.45 513.77,250.45 516.59,250.45 519.4,250.45 522.22,250.45 525.03,250.45 527.85,250.45 530.66,250.45 533.48,250.45 536.29,250.45 539.11,250.45 541.92,250.45 544.74,250.45 547.55,250.45 550.37,250.45" fill="none" stroke="#ff0000" stroke-width="0.95" stroke-linejoin="round"/><path d="M326.13 373.6h3.7v3.7h-3.7zM328.95 373.6h3.7v3.7h-3.7zM331.76 373.6h3.7v3.7h-3.7zM334.58 373.6h3.7v3.7h-3.7zM337.39 373.6h3.7v3.7h-3.7zM340.21 373.6h3.7v3.7h-3.7zM343.02 373.6h3.7v3.7h-3.7zM345.84 373.6h3.7v3.7h-3.7zM348.65 373.6h3.7v3.7h-3.7zM351.47 373.6h3.7v3.7h-3.7zM354.28 373.6h3.7v3.7h-3.7zM357.1 373.6h3.7v3.7h-3.7zM359.91 373.6h3.7v3.7h-3.7zM362.73 373.6h3.7v3.7h-3.7zM365.54 373.6h3.7v3.7h-3.7zM368.36 373.6h3.7v3.7h-3.7zM371.17 373.59h3.7v3.7h-3.7zM373.99 373.58h3.7v3.7h-3.7zM376.8 373.57h3.7v3.7h-3.7zM379.62 373.54h3.7v3.7h-3.7zM382.43 373.48h3.7v3.7h-3.7zM385.25 373.38h3.7v3.7h-3.7zM388.06 373.22h3.7v3.7h-3.7zM390.88 372.95h3.7v3.7h-3.7zM393.69 372.52h3.7v3.7h-3.7zM396.51 371.87h3.7v3.7h-3.7zM399.32 370.89h3.7v3.7h-3.7zM402.14 369.49h3.7v3.7h-3.7zM404.95 367.54h3.7v3.7h-3.7zM407.77 364.91h3.7v3.7h-3.7zM410.58 361.48h3.7v3.7h-3.7zM413.4 357.15h3.7v3.7h-3.7zM416.21 351.84h3.7v3.7h-3.7zM419.03 345.56h3.7v3.7h-3.7zM421.84 338.37h3.7v3.7h-3.7zM424.66 330.38h3.7v3.7h-3.7zM427.47 321.81h3.7v3.7h-3.7zM430.29 312.89h3.7v3.7h-3.7zM433.1 303.92h3.7v3.7h-3.7zM435.92 295.18h3.7v3.7h-3.7zM438.73 286.93h3.7v3.7h-3.7zM441.55 279.4h3.7v3.7h-3.7zM444.36 272.75h3.7v3.7h-3.7zM447.18 267.05h3.7v3.7h-3.7zM449.99 262.34h3.7v3.7h-3.7zM452.81 258.55h3.7v3.7h-3.7zM455.62 255.62h3.7v3.7h-3.7zM458.44 253.41h3.7v3.7h-3.7zM461.25 251.81h3.7v3.7h-3.7zM464.07 250.68h3.7v3.7h-3.7zM466.88 249.91h3.7v3.7h-3.7zM469.7 249.4h3.7v3.7h-3.7zM472.51 249.07h3.7v3.7h-3.7zM475.33 248.87h3.7v3.7h-3.7zM478.14 248.75h3.7v3.7h-3.7zM480.96 248.68h3.7v3.7h-3.7zM483.77 248.64h3.7v3.7h-3.7zM486.59 248.62h3.7v3.7h-3.7zM489.4 248.61h3.7v3.7h-3.7zM492.22 248.61h3.7v3.7h-3.7zM495.03 248.6h3.7v3.7h-3.7zM497.85 248.6h3.7v3.7h-3.7zM500.66 248.6h3.7v3.7h-3.7zM503.48 248.6h3.7v3.7h-3.7zM506.29 248.6h3.7v3.7h-3.7zM509.11 248.6h3.7v3.7h-3.7zM511.92 248.6h3.7v3.7h-3.7zM514.74 248.6h3.7v3.7h-3.7zM517.55 248.6h3.7v3.7h-3.7zM520.37 248.6h3.7v3.7h-3.7zM523.18 248.6h3.7v3.7h-3.7zM526 248.6h3.7v3.7h-3.7zM528.81 248.6h3.7v3.7h-3.7zM531.63 248.6h3.7v3.7h-3.7zM534.44 248.6h3.7v3.7h-3.7zM537.26 248.6h3.7v3.7h-3.7zM540.07 248.6h3.7v3.7h-3.7zM542.89 248.6h3.7v3.7h-3.7zM545.7 248.6h3.7v3.7h-3.7zM548.52 248.6h3.7v3.7h-3.7z" fill="#ff0000"/>
<polyline points="327.98,375.45 330.8,375.45 333.61,375.45 336.43,375.45 339.24,375.45 342.06,375.45 344.87,375.45 347.69,375.45 350.5,375.45 353.32,375.45 356.13,375.45 358.95,375.45 361.76,375.45 364.58,375.45 367.39,375.45 370.21,375.45 373.02,375.45 375.84,375.45 378.65,375.45 381.47,375.44 384.28,375.43 387.1,375.41 389.91,375.37 392.73,375.31 395.54,375.2 398.36,375.01 401.17,374.71 403.99,374.23 406.8,373.5 409.62,372.42 412.43,370.89 415.25,368.77 418.06,365.94 420.88,362.28 423.69,357.69 426.51,352.12 429.32,345.59 432.14,338.17 434.95,330.01 437.77,321.32 440.58,312.36 443.4,303.42 446.21,294.79 449.03,286.71 451.84,279.4 454.66,272.99 457.47,267.56 460.29,263.1 463.1,259.55 465.92,256.82 468.73,254.78 471.55,253.32 474.36,252.29 477.18,251.6 479.99,251.15 482.81,250.86 485.62,250.68 488.44,250.58 491.25,250.52 494.07,250.49 496.88,250.47 499.7,250.46 502.51,250.45 505.33,250.45 508.14,250.45 510.96,250.45 513.77,250.45 516.59,250.45 519.4,250.45 522.22,250.45 525.03,250.45 527.85,250.45 530.66,250.45 533.48,250.45 536.29,250.45 539.11,250.45 541.92,250.45 544.74,250.45 547.55,250.45 550.37,250.45" fill="none" stroke="#000000" stroke-width="0.95" stroke-linejoin="round"/><path d="M326.13 373.6h3.7v3.7h-3.7zM328.95 373.6h3.7v3.7h-3.7zM331.76 373.6h3.7v3.7h-3.7zM334.58 373.6h3.7v3.7h-3.7zM337.39 373.6h3.7v3.7h-3.7zM340.21 373.6h3.7v3.7h-3.7zM343.02 373.6h3.7v3.7h-3.7zM345.84 373.6h3.7v3.7h-3.7zM348.65 373.6h3.7v3.7h-3.7zM351.47 373.6h3.7v3.7h-3.7zM354.28 373.6h3.7v3.7h-3.7zM357.1 373.6h3.7v3.7h-3.7zM359.91 373.6h3.7v3.7h-3.7zM362.73 373.6h3.7v3.7h-3.7zM365.54 373.6h3.7v3.7h-3.7zM368.36 373.6h3.7v3.7h-3.7zM371.17 373.6h3.7v3.7h-3.7zM373.99 373.6h3.7v3.7h-3.7zM376.8 373.6h3.7v3.7h-3.7zM379.62 373.59h3.7v3.7h-3.7zM382.43 373.58h3.7v3.7h-3.7zM385.25 373.56h3.7v3.7h-3.7zM388.06 373.52h3.7v3.7h-3.7zM390.88 373.46h3.7v3.7h-3.7zM393.69 373.35h3.7v3.7h-3.7zM396.51 373.16h3.7v3.7h-3.7zM399.32 372.86h3.7v3.7h-3.7zM402.14 372.38h3.7v3.7h-3.7zM404.95 371.65h3.7v3.7h-3.7zM407.77 370.57h3.7v3.7h-3.7zM410.58 369.04h3.7v3.7h-3.7zM413.4 366.92h3.7v3.7h-3.7zM416.21 364.09h3.7v3.7h-3.7zM419.03 360.43h3.7v3.7h-3.7zM421.84 355.84h3.7v3.7h-3.7zM424.66 350.27h3.7v3.7h-3.7zM427.47 343.74h3.7v3.7h-3.7zM430.29 336.32h3.7v3.7h-3.7zM433.1 328.16h3.7v3.7h-3.7zM435.92 319.47h3.7v3.7h-3.7zM438.73 310.51h3.7v3.7h-3.7zM441.55 301.57h3.7v3.7h-3.7zM444.36 292.94h3.7v3.7h-3.7zM447.18 284.86h3.7v3.7h-3.7zM449.99 277.55h3.7v3.7h-3.7zM452.81 271.14h3.7v3.7h-3.7zM455.62 265.71h3.7v3.7h-3.7zM458.44 261.25h3.7v3.7h-3.7zM461.25 257.7h3.7v3.7h-3.7zM464.07 254.97h3.7v3.7h-3.7zM466.88 252.93h3.7v3.7h-3.7zM469.7 251.47h3.7v3.7h-3.7zM472.51 250.44h3.7v3.7h-3.7zM475.33 249.75h3.7v3.7h-3.7zM478.14 249.3h3.7v3.7h-3.7zM480.96 249.01h3.7v3.7h-3.7zM483.77 248.83h3.7v3.7h-3.7zM486.59 248.73h3.7v3.7h-3.7zM489.4 248.67h3.7v3.7h-3.7zM492.22 248.64h3.7v3.7h-3.7zM495.03 248.62h3.7v3.7h-3.7zM497.85 248.61h3.7v3.7h-3.7zM500.66 248.6h3.7v3.7h-3.7zM503.48 248.6h3.7v3.7h-3.7zM506.29 248.6h3.7v3.7h-3.7zM509.11 248.6h3.7v3.7h-3.7zM511.92 248.6h3.7v3.7h-3.7zM514.74 248.6h3.7v3.7h-3.7zM517.55 248.6h3.7v3.7h-3.7zM520.37 248.6h3.7v3.7h-3.7zM523.18 248.6h3.7v3.7h-3.7zM526 248.6h3.7v3.7h-3.7zM528.81 248.6h3.7v3.7h-3.7zM531.63 248.6h3.7v3.7h-3.7zM534.44 248.6h3.7v3.7h-3.7zM537.26 248.6h3.7v3.7h-3.7zM540.07 248.6h3.7v3.7h-3.7zM542.89 248.6h3.7v3.7h-3.7zM545.7 248.6h3.7v3.7h-3.7zM548.52 248.6h3.7v3.7h-3.7z" fill="#000000"/>
</g>
<text x="334.9" y="389.15" text-anchor="middle" class="tl">0.1</text><text x="475.6" y="389.15" text-anchor="middle" class="tl">0.15</text><text x="321.85" y="380.15" text-anchor="end" class="tl">0</text><text x="321.85" y="355.15" text-anchor="end" class="tl">0.2</text><text x="321.85" y="330.15" text-anchor="end" class="tl">0.4</text><text x="321.85" y="305.15" text-anchor="end" class="tl">0.6</text><text x="321.85" y="280.15" text-anchor="end" class="tl">0.8</text><text x="321.85" y="255.15" text-anchor="end" class="tl">1</text><text transform="translate(294.25 238.3) rotate(-90)" text-anchor="end" class="yt">Cumulative proba.</text><text transform="translate(551.15 407.35) scale(1.17 1)" text-anchor="end" class="sym" font-size="17.2">&#945;</text>
</g>
<g>
<path d="M660 375.45V238.1M800.5 375.45V238.1M600.8 350.45H826M600.8 325.45H826M600.8 300.45H826M600.8 275.45H826M600.8 250.45H826" stroke="#000" stroke-width="1" stroke-dasharray="1 1.7" fill="none"/>
<path d="M603.8 375.45v-3.6M631.9 375.45v-3.6M660 375.45v-7.2M688.1 375.45v-3.6M716.2 375.45v-3.6M744.3 375.45v-3.6M772.4 375.45v-3.6M800.5 375.45v-7.2M600.8 369.2h3.7M600.8 362.95h3.7M600.8 356.7h3.7M600.8 350.45h7.4M600.8 344.2h3.7M600.8 337.95h3.7M600.8 331.7h3.7M600.8 325.45h7.4M600.8 319.2h3.7M600.8 312.95h3.7M600.8 306.7h3.7M600.8 300.45h7.4M600.8 294.2h3.7M600.8 287.95h3.7M600.8 281.7h3.7M600.8 275.45h7.4M600.8 269.2h3.7M600.8 262.95h3.7M600.8 256.7h3.7M600.8 250.45h7.4M600.8 244.2h3.7" stroke="#000" stroke-width="1" fill="none"/><rect x="600.8" y="238.1" width="225.2" height="137.35" fill="none" stroke="#000" stroke-width="1"/>
<path d="M724.5 375.45V238.1" stroke="#2020ff" stroke-width="1" stroke-dasharray="3.2 2.1" fill="none"/>
<path d="M600.8 273H826M600.8 313.45H826M600.8 356H826" stroke="#2020ff" stroke-width="1" stroke-dasharray="3.2 2.1" fill="none"/>
<clipPath id="c12"><rect x="601.2" y="237.5" width="225.4" height="138.65"/></clipPath><g clip-path="url(#c12)">
<polyline points="603.56,375.45 606.37,375.45 609.19,375.45 612,375.45 614.82,375.45 617.63,375.45 620.45,375.45 623.26,375.45 626.08,375.45 628.89,375.45 631.71,375.45 634.52,375.45 637.34,375.45 640.15,375.45 642.97,375.45 645.78,375.45 648.6,375.45 651.41,375.45 654.23,375.44 657.04,375.43 659.86,375.41 662.67,375.37 665.49,375.29 668.3,375.14 671.12,374.89 673.93,374.46 676.75,373.78 679.56,372.72 682.38,371.14 685.19,368.88 688.01,365.76 690.82,361.63 693.64,356.38 696.45,349.94 699.27,342.36 702.08,333.78 704.9,324.44 707.71,314.66 710.53,304.81 713.34,295.27 716.16,286.4 718.97,278.45 721.79,271.61 724.6,265.95 727.42,261.44 730.23,258 733.05,255.46 735.86,253.66 738.68,252.44 741.49,251.64 744.31,251.14 747.12,250.83 749.94,250.66 752.75,250.56 755.57,250.5 758.38,250.48 761.2,250.46 764.01,250.46 766.83,250.45 769.64,250.45 772.46,250.45 775.27,250.45 778.09,250.45 780.9,250.45 783.72,250.45 786.53,250.45 789.35,250.45 792.16,250.45 794.98,250.45 797.79,250.45 800.61,250.45 803.42,250.45 806.24,250.45 809.05,250.45 811.87,250.45 814.68,250.45 817.5,250.45 820.31,250.45 823.13,250.45 825.94,250.45" fill="none" stroke="#ff00ff" stroke-width="0.95" stroke-linejoin="round"/><path d="M602.51 374.4h2.1v2.1h-2.1zM605.32 374.4h2.1v2.1h-2.1zM608.14 374.4h2.1v2.1h-2.1zM610.95 374.4h2.1v2.1h-2.1zM613.77 374.4h2.1v2.1h-2.1zM616.58 374.4h2.1v2.1h-2.1zM619.4 374.4h2.1v2.1h-2.1zM622.21 374.4h2.1v2.1h-2.1zM625.03 374.4h2.1v2.1h-2.1zM627.84 374.4h2.1v2.1h-2.1zM630.66 374.4h2.1v2.1h-2.1zM633.47 374.4h2.1v2.1h-2.1zM636.29 374.4h2.1v2.1h-2.1zM639.1 374.4h2.1v2.1h-2.1zM641.92 374.4h2.1v2.1h-2.1zM644.73 374.4h2.1v2.1h-2.1zM647.55 374.4h2.1v2.1h-2.1zM650.36 374.4h2.1v2.1h-2.1zM653.18 374.39h2.1v2.1h-2.1zM655.99 374.38h2.1v2.1h-2.1zM658.81 374.36h2.1v2.1h-2.1zM661.62 374.32h2.1v2.1h-2.1zM664.44 374.24h2.1v2.1h-2.1zM667.25 374.09h2.1v2.1h-2.1zM670.07 373.84h2.1v2.1h-2.1zM672.88 373.41h2.1v2.1h-2.1zM675.7 372.73h2.1v2.1h-2.1zM678.51 371.67h2.1v2.1h-2.1zM681.33 370.09h2.1v2.1h-2.1zM684.14 367.83h2.1v2.1h-2.1zM686.96 364.71h2.1v2.1h-2.1zM689.77 360.58h2.1v2.1h-2.1zM692.59 355.33h2.1v2.1h-2.1zM695.4 348.89h2.1v2.1h-2.1zM698.22 341.31h2.1v2.1h-2.1zM701.03 332.73h2.1v2.1h-2.1zM703.85 323.39h2.1v2.1h-2.1zM706.66 313.61h2.1v2.1h-2.1zM709.48 303.76h2.1v2.1h-2.1zM712.29 294.22h2.1v2.1h-2.1zM715.11 285.35h2.1v2.1h-2.1zM717.92 277.4h2.1v2.1h-2.1zM720.74 270.56h2.1v2.1h-2.1zM723.55 264.9h2.1v2.1h-2.1zM726.37 260.39h2.1v2.1h-2.1zM729.18 256.95h2.1v2.1h-2.1zM732 254.41h2.1v2.1h-2.1zM734.81 252.61h2.1v2.1h-2.1zM737.63 251.39h2.1v2.1h-2.1zM740.44 250.59h2.1v2.1h-2.1zM743.26 250.09h2.1v2.1h-2.1zM746.07 249.78h2.1v2.1h-2.1zM748.89 249.61h2.1v2.1h-2.1zM751.7 249.51h2.1v2.1h-2.1zM754.52 249.45h2.1v2.1h-2.1zM757.33 249.43h2.1v2.1h-2.1zM760.15 249.41h2.1v2.1h-2.1zM762.96 249.41h2.1v2.1h-2.1zM765.78 249.4h2.1v2.1h-2.1zM768.59 249.4h2.1v2.1h-2.1zM771.41 249.4h2.1v2.1h-2.1zM774.22 249.4h2.1v2.1h-2.1zM777.04 249.4h2.1v2.1h-2.1zM779.85 249.4h2.1v2.1h-2.1zM782.67 249.4h2.1v2.1h-2.1zM785.48 249.4h2.1v2.1h-2.1zM788.3 249.4h2.1v2.1h-2.1zM791.11 249.4h2.1v2.1h-2.1zM793.93 249.4h2.1v2.1h-2.1zM796.74 249.4h2.1v2.1h-2.1zM799.56 249.4h2.1v2.1h-2.1zM802.37 249.4h2.1v2.1h-2.1zM805.19 249.4h2.1v2.1h-2.1zM808 249.4h2.1v2.1h-2.1zM810.82 249.4h2.1v2.1h-2.1zM813.63 249.4h2.1v2.1h-2.1zM816.45 249.4h2.1v2.1h-2.1zM819.26 249.4h2.1v2.1h-2.1zM822.08 249.4h2.1v2.1h-2.1zM824.89 249.4h2.1v2.1h-2.1z" fill="#ff00ff"/>
<polyline points="603.39,375.45 606.2,375.45 609.02,375.45 611.83,375.45 614.65,375.45 617.46,375.45 620.28,375.45 623.09,375.45 625.91,375.45 628.72,375.45 631.54,375.45 634.35,375.45 637.17,375.45 639.98,375.45 642.8,375.45 645.61,375.45 648.43,375.45 651.24,375.44 654.06,375.44 656.87,375.42 659.69,375.39 662.5,375.33 665.32,375.23 668.13,375.04 670.95,374.71 673.76,374.18 676.58,373.33 679.39,372.04 682.21,370.16 685.02,367.52 687.84,363.94 690.65,359.29 693.47,353.48 696.28,346.5 699.1,338.42 701.91,329.44 704.73,319.85 707.54,309.98 710.36,300.24 713.17,290.98 715.99,282.51 718.8,275.07 721.62,268.79 724.43,263.68 727.25,259.69 730.06,256.69 732.88,254.53 735.69,253.02 738.51,252.02 741.32,251.37 744.14,250.97 746.95,250.74 749.77,250.6 752.58,250.53 755.4,250.49 758.21,250.47 761.03,250.46 763.84,250.45 766.66,250.45 769.47,250.45 772.29,250.45 775.1,250.45 777.92,250.45 780.73,250.45 783.55,250.45 786.36,250.45 789.18,250.45 791.99,250.45 794.81,250.45 797.62,250.45 800.44,250.45 803.25,250.45 806.07,250.45 808.88,250.45 811.7,250.45 814.51,250.45 817.33,250.45 820.14,250.45 822.96,250.45 825.77,250.45" fill="none" stroke="#00ff00" stroke-width="0.95" stroke-linejoin="round"/><path d="M601.54 373.6h3.7v3.7h-3.7zM604.35 373.6h3.7v3.7h-3.7zM607.17 373.6h3.7v3.7h-3.7zM609.98 373.6h3.7v3.7h-3.7zM612.8 373.6h3.7v3.7h-3.7zM615.61 373.6h3.7v3.7h-3.7zM618.43 373.6h3.7v3.7h-3.7zM621.24 373.6h3.7v3.7h-3.7zM624.06 373.6h3.7v3.7h-3.7zM626.87 373.6h3.7v3.7h-3.7zM629.69 373.6h3.7v3.7h-3.7zM632.5 373.6h3.7v3.7h-3.7zM635.32 373.6h3.7v3.7h-3.7zM638.13 373.6h3.7v3.7h-3.7zM640.95 373.6h3.7v3.7h-3.7zM643.76 373.6h3.7v3.7h-3.7zM646.58 373.6h3.7v3.7h-3.7zM649.39 373.59h3.7v3.7h-3.7zM652.21 373.59h3.7v3.7h-3.7zM655.02 373.57h3.7v3.7h-3.7zM657.84 373.54h3.7v3.7h-3.7zM660.65 373.48h3.7v3.7h-3.7zM663.47 373.38h3.7v3.7h-3.7zM666.28 373.19h3.7v3.7h-3.7zM669.1 372.86h3.7v3.7h-3.7zM671.91 372.33h3.7v3.7h-3.7zM674.73 371.48h3.7v3.7h-3.7zM677.54 370.19h3.7v3.7h-3.7zM680.36 368.31h3.7v3.7h-3.7zM683.17 365.67h3.7v3.7h-3.7zM685.99 362.09h3.7v3.7h-3.7zM688.8 357.44h3.7v3.7h-3.7zM691.62 351.63h3.7v3.7h-3.7zM694.43 344.65h3.7v3.7h-3.7zM697.25 336.57h3.7v3.7h-3.7zM700.06 327.59h3.7v3.7h-3.7zM702.88 318h3.7v3.7h-3.7zM705.69 308.13h3.7v3.7h-3.7zM708.51 298.39h3.7v3.7h-3.7zM711.32 289.13h3.7v3.7h-3.7zM714.14 280.66h3.7v3.7h-3.7zM716.95 273.22h3.7v3.7h-3.7zM719.77 266.94h3.7v3.7h-3.7zM722.58 261.83h3.7v3.7h-3.7zM725.4 257.84h3.7v3.7h-3.7zM728.21 254.84h3.7v3.7h-3.7zM731.03 252.68h3.7v3.7h-3.7zM733.84 251.17h3.7v3.7h-3.7zM736.66 250.17h3.7v3.7h-3.7zM739.47 249.52h3.7v3.7h-3.7zM742.29 249.12h3.7v3.7h-3.7zM745.1 248.89h3.7v3.7h-3.7zM747.92 248.75h3.7v3.7h-3.7zM750.73 248.68h3.7v3.7h-3.7zM753.55 248.64h3.7v3.7h-3.7zM756.36 248.62h3.7v3.7h-3.7zM759.18 248.61h3.7v3.7h-3.7zM761.99 248.6h3.7v3.7h-3.7zM764.81 248.6h3.7v3.7h-3.7zM767.62 248.6h3.7v3.7h-3.7zM770.44 248.6h3.7v3.7h-3.7zM773.25 248.6h3.7v3.7h-3.7zM776.07 248.6h3.7v3.7h-3.7zM778.88 248.6h3.7v3.7h-3.7zM781.7 248.6h3.7v3.7h-3.7zM784.51 248.6h3.7v3.7h-3.7zM787.33 248.6h3.7v3.7h-3.7zM790.14 248.6h3.7v3.7h-3.7zM792.96 248.6h3.7v3.7h-3.7zM795.77 248.6h3.7v3.7h-3.7zM798.59 248.6h3.7v3.7h-3.7zM801.4 248.6h3.7v3.7h-3.7zM804.22 248.6h3.7v3.7h-3.7zM807.03 248.6h3.7v3.7h-3.7zM809.85 248.6h3.7v3.7h-3.7zM812.66 248.6h3.7v3.7h-3.7zM815.48 248.6h3.7v3.7h-3.7zM818.29 248.6h3.7v3.7h-3.7zM821.11 248.6h3.7v3.7h-3.7zM823.92 248.6h3.7v3.7h-3.7z" fill="#00ff00"/>
<polyline points="601.03,375.45 603.84,375.45 606.66,375.45 609.47,375.45 612.29,375.45 615.1,375.45 617.92,375.45 620.73,375.45 623.55,375.45 626.36,375.45 629.18,375.45 631.99,375.45 634.81,375.45 637.62,375.45 640.44,375.45 643.25,375.45 646.07,375.45 648.88,375.45 651.7,375.45 654.51,375.45 657.33,375.44 660.14,375.43 662.96,375.42 665.77,375.38 668.59,375.31 671.4,375.19 674.22,374.98 677.03,374.62 679.85,374.04 682.66,373.14 685.48,371.78 688.29,369.82 691.11,367.09 693.92,363.44 696.74,358.73 699.55,352.88 702.37,345.89 705.18,337.85 708,328.96 710.81,319.48 713.63,309.75 716.44,300.14 719.26,291.01 722.07,282.65 724.89,275.29 727.7,269.05 730.52,263.95 733.33,259.95 736.15,256.92 738.96,254.71 741.78,253.17 744.59,252.12 747.41,251.45 750.22,251.02 753.04,250.77 755.85,250.62 758.67,250.54 761.48,250.49 764.3,250.47 767.11,250.46 769.93,250.45 772.74,250.45 775.56,250.45 778.37,250.45 781.19,250.45 784,250.45 786.82,250.45 789.63,250.45 792.45,250.45 795.26,250.45 798.08,250.45 800.89,250.45 803.71,250.45 806.52,250.45 809.34,250.45 812.15,250.45 814.97,250.45 817.78,250.45 820.6,250.45 823.41,250.45" fill="none" stroke="#ff0000" stroke-width="0.95" stroke-linejoin="round"/><path d="M601.99 373.6h3.7v3.7h-3.7zM604.81 373.6h3.7v3.7h-3.7zM607.62 373.6h3.7v3.7h-3.7zM610.44 373.6h3.7v3.7h-3.7zM613.25 373.6h3.7v3.7h-3.7zM616.07 373.6h3.7v3.7h-3.7zM618.88 373.6h3.7v3.7h-3.7zM621.7 373.6h3.7v3.7h-3.7zM624.51 373.6h3.7v3.7h-3.7zM627.33 373.6h3.7v3.7h-3.7zM630.14 373.6h3.7v3.7h-3.7zM632.96 373.6h3.7v3.7h-3.7zM635.77 373.6h3.7v3.7h-3.7zM638.59 373.6h3.7v3.7h-3.7zM641.4 373.6h3.7v3.7h-3.7zM644.22 373.6h3.7v3.7h-3.7zM647.03 373.6h3.7v3.7h-3.7zM649.85 373.6h3.7v3.7h-3.7zM652.66 373.6h3.7v3.7h-3.7zM655.48 373.59h3.7v3.7h-3.7zM658.29 373.58h3.7v3.7h-3.7zM661.11 373.57h3.7v3.7h-3.7zM663.92 373.53h3.7v3.7h-3.7zM666.74 373.46h3.7v3.7h-3.7zM669.55 373.34h3.7v3.7h-3.7zM672.37 373.13h3.7v3.7h-3.7zM675.18 372.77h3.7v3.7h-3.7zM678 372.19h3.7v3.7h-3.7zM680.81 371.29h3.7v3.7h-3.7zM683.63 369.93h3.7v3.7h-3.7zM686.44 367.97h3.7v3.7h-3.7zM689.26 365.24h3.7v3.7h-3.7zM692.07 361.59h3.7v3.7h-3.7zM694.89 356.88h3.7v3.7h-3.7zM697.7 351.03h3.7v3.7h-3.7zM700.52 344.04h3.7v3.7h-3.7zM703.33 336h3.7v3.7h-3.7zM706.15 327.11h3.7v3.7h-3.7zM708.96 317.63h3.7v3.7h-3.7zM711.78 307.9h3.7v3.7h-3.7zM714.59 298.29h3.7v3.7h-3.7zM717.41 289.16h3.7v3.7h-3.7zM720.22 280.8h3.7v3.7h-3.7zM723.04 273.44h3.7v3.7h-3.7zM725.85 267.2h3.7v3.7h-3.7zM728.67 262.1h3.7v3.7h-3.7zM731.48 258.1h3.7v3.7h-3.7zM734.3 255.07h3.7v3.7h-3.7zM737.11 252.86h3.7v3.7h-3.7zM739.93 251.32h3.7v3.7h-3.7zM742.74 250.27h3.7v3.7h-3.7zM745.56 249.6h3.7v3.7h-3.7zM748.37 249.17h3.7v3.7h-3.7zM751.19 248.92h3.7v3.7h-3.7zM754 248.77h3.7v3.7h-3.7zM756.82 248.69h3.7v3.7h-3.7zM759.63 248.64h3.7v3.7h-3.7zM762.45 248.62h3.7v3.7h-3.7zM765.26 248.61h3.7v3.7h-3.7zM768.08 248.6h3.7v3.7h-3.7zM770.89 248.6h3.7v3.7h-3.7zM773.71 248.6h3.7v3.7h-3.7zM776.52 248.6h3.7v3.7h-3.7zM779.34 248.6h3.7v3.7h-3.7zM782.15 248.6h3.7v3.7h-3.7zM784.97 248.6h3.7v3.7h-3.7zM787.78 248.6h3.7v3.7h-3.7zM790.6 248.6h3.7v3.7h-3.7zM793.41 248.6h3.7v3.7h-3.7zM796.23 248.6h3.7v3.7h-3.7zM799.04 248.6h3.7v3.7h-3.7zM801.86 248.6h3.7v3.7h-3.7zM804.67 248.6h3.7v3.7h-3.7zM807.49 248.6h3.7v3.7h-3.7zM810.3 248.6h3.7v3.7h-3.7zM813.12 248.6h3.7v3.7h-3.7zM815.93 248.6h3.7v3.7h-3.7zM818.75 248.6h3.7v3.7h-3.7zM821.56 248.6h3.7v3.7h-3.7z" fill="#ff0000"/>
<polyline points="603.39,375.45 606.2,375.45 609.02,375.45 611.83,375.45 614.65,375.45 617.46,375.45 620.28,375.45 623.09,375.45 625.91,375.45 628.72,375.45 631.54,375.45 634.35,375.45 637.17,375.45 639.98,375.45 642.8,375.45 645.61,375.45 648.43,375.45 651.24,375.45 654.06,375.45 656.87,375.44 659.69,375.44 662.5,375.42 665.32,375.39 668.13,375.34 670.95,375.24 673.76,375.08 676.58,374.81 679.39,374.37 682.21,373.7 685.02,372.68 687.84,371.21 690.65,369.15 693.47,366.36 696.28,362.71 699.1,358.09 701.91,352.45 704.73,345.79 707.54,338.19 710.36,329.81 713.17,320.87 715.99,311.67 718.8,302.51 721.62,293.7 724.43,285.52 727.25,278.16 730.06,271.78 732.88,266.43 735.69,262.08 738.51,258.68 741.32,256.11 744.14,254.23 746.95,252.9 749.77,251.99 752.58,251.39 755.4,251 758.21,250.77 761.03,250.63 763.84,250.54 766.66,250.5 769.47,250.47 772.29,250.46 775.1,250.46 777.92,250.45 780.73,250.45 783.55,250.45 786.36,250.45 789.18,250.45 791.99,250.45 794.81,250.45 797.62,250.45 800.44,250.45 803.25,250.45 806.07,250.45 808.88,250.45 811.7,250.45 814.51,250.45 817.33,250.45 820.14,250.45 822.96,250.45 825.77,250.45" fill="none" stroke="#000000" stroke-width="0.95" stroke-linejoin="round"/><path d="M601.54 373.6h3.7v3.7h-3.7zM604.35 373.6h3.7v3.7h-3.7zM607.17 373.6h3.7v3.7h-3.7zM609.98 373.6h3.7v3.7h-3.7zM612.8 373.6h3.7v3.7h-3.7zM615.61 373.6h3.7v3.7h-3.7zM618.43 373.6h3.7v3.7h-3.7zM621.24 373.6h3.7v3.7h-3.7zM624.06 373.6h3.7v3.7h-3.7zM626.87 373.6h3.7v3.7h-3.7zM629.69 373.6h3.7v3.7h-3.7zM632.5 373.6h3.7v3.7h-3.7zM635.32 373.6h3.7v3.7h-3.7zM638.13 373.6h3.7v3.7h-3.7zM640.95 373.6h3.7v3.7h-3.7zM643.76 373.6h3.7v3.7h-3.7zM646.58 373.6h3.7v3.7h-3.7zM649.39 373.6h3.7v3.7h-3.7zM652.21 373.6h3.7v3.7h-3.7zM655.02 373.59h3.7v3.7h-3.7zM657.84 373.59h3.7v3.7h-3.7zM660.65 373.57h3.7v3.7h-3.7zM663.47 373.54h3.7v3.7h-3.7zM666.28 373.49h3.7v3.7h-3.7zM669.1 373.39h3.7v3.7h-3.7zM671.91 373.23h3.7v3.7h-3.7zM674.73 372.96h3.7v3.7h-3.7zM677.54 372.52h3.7v3.7h-3.7zM680.36 371.85h3.7v3.7h-3.7zM683.17 370.83h3.7v3.7h-3.7zM685.99 369.36h3.7v3.7h-3.7zM688.8 367.3h3.7v3.7h-3.7zM691.62 364.51h3.7v3.7h-3.7zM694.43 360.86h3.7v3.7h-3.7zM697.25 356.24h3.7v3.7h-3.7zM700.06 350.6h3.7v3.7h-3.7zM702.88 343.94h3.7v3.7h-3.7zM705.69 336.34h3.7v3.7h-3.7zM708.51 327.96h3.7v3.7h-3.7zM711.32 319.02h3.7v3.7h-3.7zM714.14 309.82h3.7v3.7h-3.7zM716.95 300.66h3.7v3.7h-3.7zM719.77 291.85h3.7v3.7h-3.7zM722.58 283.67h3.7v3.7h-3.7zM725.4 276.31h3.7v3.7h-3.7zM728.21 269.93h3.7v3.7h-3.7zM731.03 264.58h3.7v3.7h-3.7zM733.84 260.23h3.7v3.7h-3.7zM736.66 256.83h3.7v3.7h-3.7zM739.47 254.26h3.7v3.7h-3.7zM742.29 252.38h3.7v3.7h-3.7zM745.1 251.05h3.7v3.7h-3.7zM747.92 250.14h3.7v3.7h-3.7zM750.73 249.54h3.7v3.7h-3.7zM753.55 249.15h3.7v3.7h-3.7zM756.36 248.92h3.7v3.7h-3.7zM759.18 248.78h3.7v3.7h-3.7zM761.99 248.69h3.7v3.7h-3.7zM764.81 248.65h3.7v3.7h-3.7zM767.62 248.62h3.7v3.7h-3.7zM770.44 248.61h3.7v3.7h-3.7zM773.25 248.61h3.7v3.7h-3.7zM776.07 248.6h3.7v3.7h-3.7zM778.88 248.6h3.7v3.7h-3.7zM781.7 248.6h3.7v3.7h-3.7zM784.51 248.6h3.7v3.7h-3.7zM787.33 248.6h3.7v3.7h-3.7zM790.14 248.6h3.7v3.7h-3.7zM792.96 248.6h3.7v3.7h-3.7zM795.77 248.6h3.7v3.7h-3.7zM798.59 248.6h3.7v3.7h-3.7zM801.4 248.6h3.7v3.7h-3.7zM804.22 248.6h3.7v3.7h-3.7zM807.03 248.6h3.7v3.7h-3.7zM809.85 248.6h3.7v3.7h-3.7zM812.66 248.6h3.7v3.7h-3.7zM815.48 248.6h3.7v3.7h-3.7zM818.29 248.6h3.7v3.7h-3.7zM821.11 248.6h3.7v3.7h-3.7zM823.92 248.6h3.7v3.7h-3.7z" fill="#000000"/>
</g>
<text x="660" y="389.15" text-anchor="middle" class="tl">3</text><text x="800.5" y="389.15" text-anchor="middle" class="tl">3.5</text><text x="597.2" y="380.15" text-anchor="end" class="tl">0</text><text x="597.2" y="355.15" text-anchor="end" class="tl">0.2</text><text x="597.2" y="330.15" text-anchor="end" class="tl">0.4</text><text x="597.2" y="305.15" text-anchor="end" class="tl">0.6</text><text x="597.2" y="280.15" text-anchor="end" class="tl">0.8</text><text x="597.2" y="255.15" text-anchor="end" class="tl">1</text><text transform="translate(569.6 238.3) rotate(-90)" text-anchor="end" class="yt">Cumulative proba.</text><text x="826.2" y="407.25" text-anchor="end" class="sym" font-size="15.6">&#946;</text>
</g>
<text x="61.6" y="63.8" class="it" fill="#000">HD 47</text>
<text x="54.6" y="246.7" class="it" fill="#00ff00">standard</text>
<text x="54.6" y="258.9" class="it" fill="#ff0000">fitting Tol 0.1</text>
<text x="54.6" y="271.1" class="it" fill="#000">sampling</text>
<text x="54.6" y="367.6" class="it" fill="#ff00ff">JLA-S</text>
</svg>
</body></html>
